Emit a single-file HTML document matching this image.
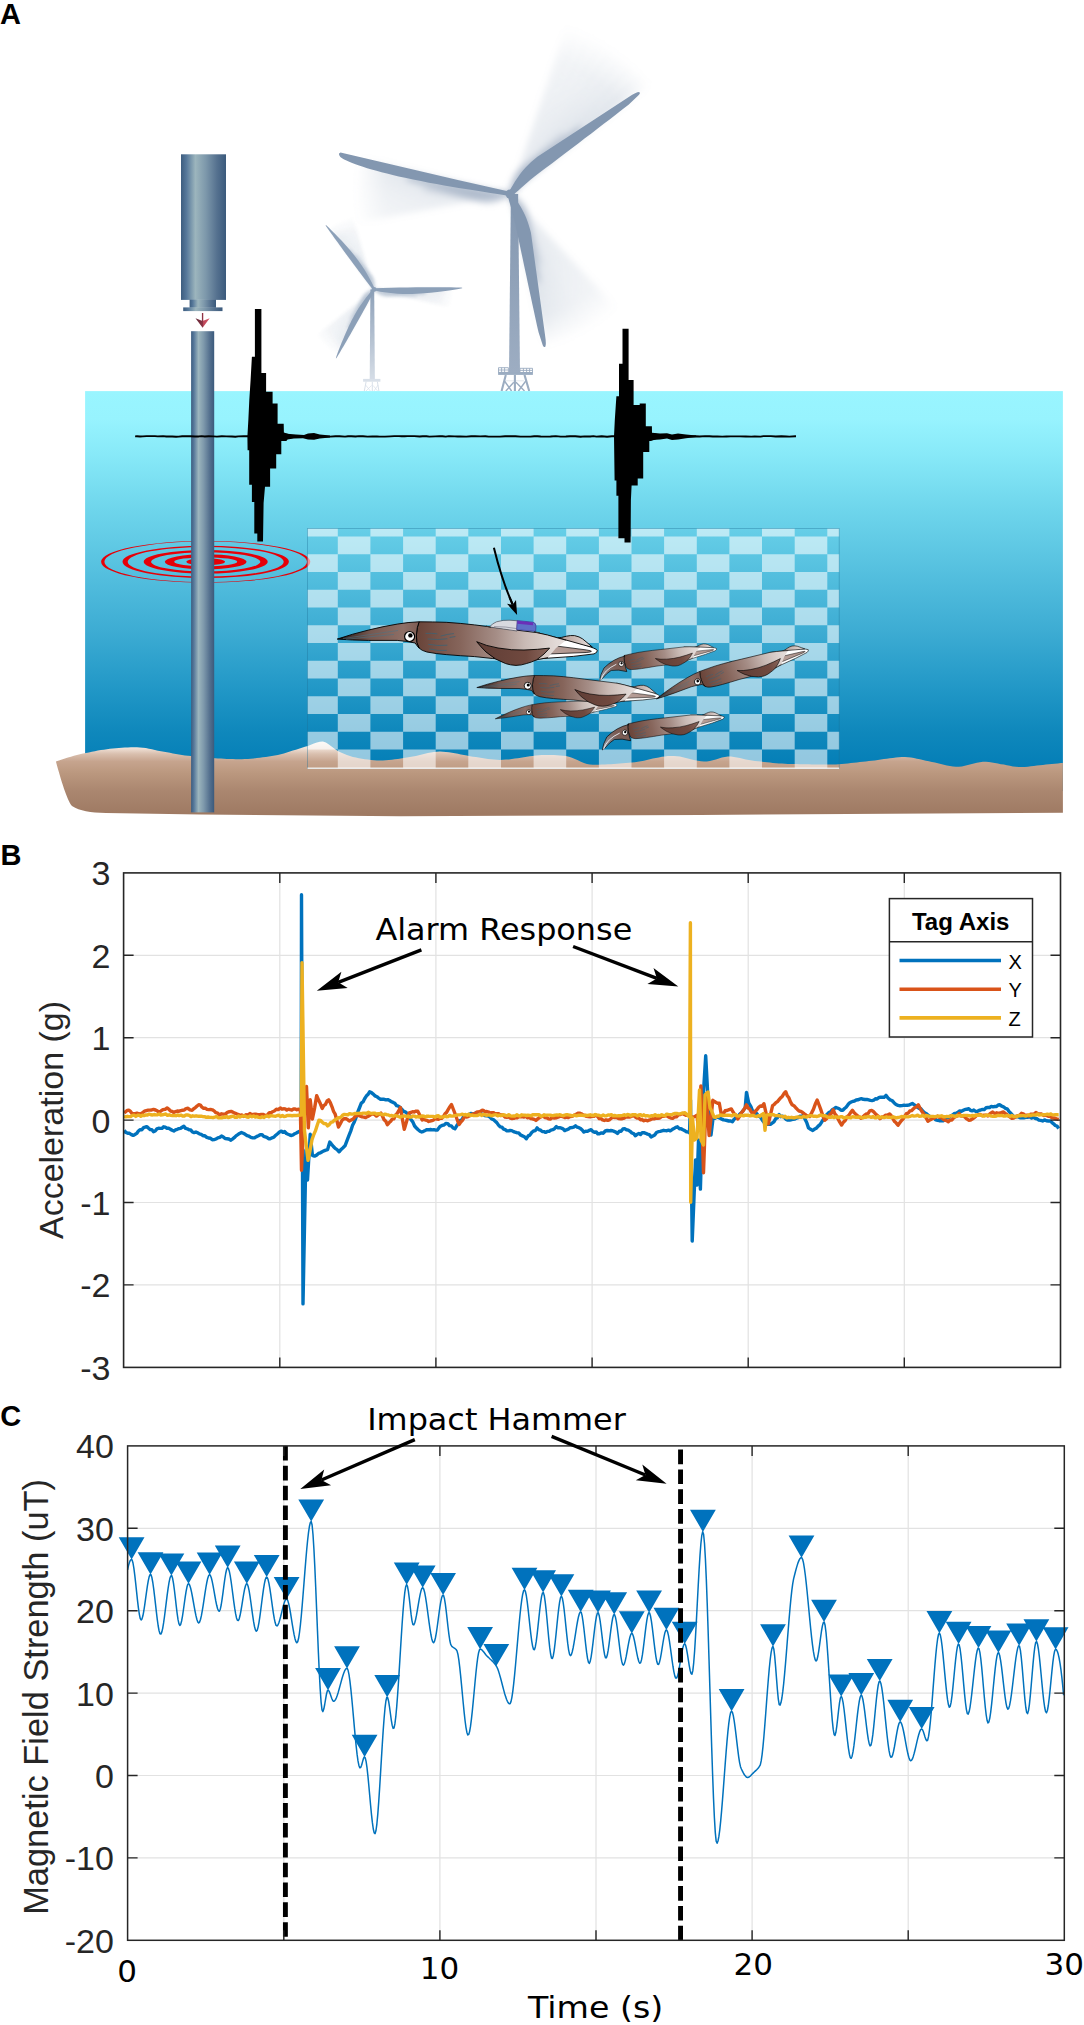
<!DOCTYPE html>
<html lang="en">
<head>
<meta charset="utf-8">
<title>Figure</title>
<style>
html,body{margin:0;padding:0;background:#fff;}
body{width:1084px;height:2025px;overflow:hidden;}
svg{display:block;}
text{white-space:pre;}
</style>
</head>
<body>
<svg width="1084" height="2025" viewBox="0 0 1084 2025">
<rect x="0" y="0" width="1084" height="2025" fill="#ffffff"/>
<defs>
<linearGradient id="gWater" x1="0" y1="0" x2="0" y2="1">
<stop offset="0" stop-color="#99f5ff"/><stop offset="0.07" stop-color="#97f3fe"/><stop offset="0.16" stop-color="#87e9f8"/>
<stop offset="0.29" stop-color="#6fd6ec"/><stop offset="0.45" stop-color="#55c0df"/><stop offset="0.60" stop-color="#3dacd3"/>
<stop offset="0.74" stop-color="#2298c7"/><stop offset="0.85" stop-color="#0f88bc"/><stop offset="0.95" stop-color="#037db6"/><stop offset="1" stop-color="#027cb5"/>
</linearGradient>
<linearGradient id="gSand" gradientUnits="userSpaceOnUse" x1="0" y1="739" x2="0" y2="814">
<stop offset="0" stop-color="#fffaf6"/><stop offset="0.12" stop-color="#f0e2d8"/><stop offset="0.2" stop-color="#d9bfae"/><stop offset="0.3" stop-color="#c6a48e"/>
<stop offset="0.45" stop-color="#bb987f"/><stop offset="0.7" stop-color="#aa866f"/><stop offset="1" stop-color="#9f7a63"/>
</linearGradient>
<linearGradient id="gSteel" x1="0" y1="0" x2="1" y2="0">
<stop offset="0" stop-color="#3d5d7f"/><stop offset="0.12" stop-color="#56789a"/><stop offset="0.32" stop-color="#9cb5bd"/>
<stop offset="0.55" stop-color="#7d98ab"/><stop offset="0.8" stop-color="#55718f"/><stop offset="1" stop-color="#3b5a7c"/>
</linearGradient>
<linearGradient id="gRedArrow" x1="0" y1="0" x2="1" y2="0">
<stop offset="0" stop-color="#5e2433"/><stop offset="0.5" stop-color="#8c3445"/><stop offset="0.5" stop-color="#b94457"/><stop offset="1" stop-color="#d9586a"/>
</linearGradient>
<filter id="blur3" x="-30%" y="-30%" width="160%" height="160%"><feGaussianBlur stdDeviation="3"/></filter>
<filter id="blur5" x="-30%" y="-30%" width="160%" height="160%"><feGaussianBlur stdDeviation="5"/></filter>
<filter id="blur2" x="-30%" y="-30%" width="160%" height="160%"><feGaussianBlur stdDeviation="1.6"/></filter>
<filter id="blur1" x="-30%" y="-30%" width="160%" height="160%"><feGaussianBlur stdDeviation="0.8"/></filter>

</defs>
<g id="panelA">
<text x="0" y="23.9" font-family="'Liberation Sans', Arial, Helvetica, sans-serif" font-weight="700" font-size="29" fill="#000">A</text>
<g opacity="1.0">
<linearGradient id="gT510" gradientUnits="userSpaceOnUse" x1="0" y1="194.0" x2="0" y2="372.4"><stop offset="0" stop-color="#8397b0"/><stop offset="1" stop-color="#9dadc2"/></linearGradient>
<path d="M510.9 194.0L518.1 194.0L520.0 372.4L509.0 372.4Z" fill="url(#gT510)"/>
<radialGradient id="gR510_0" gradientUnits="userSpaceOnUse" cx="0" cy="0" r="178.0"><stop offset="0" stop-color="#8397b0" stop-opacity="1"/><stop offset="0.45" stop-color="#8397b0" stop-opacity="0.8"/><stop offset="0.8" stop-color="#8397b0" stop-opacity="0.55"/><stop offset="1" stop-color="#8397b0" stop-opacity="0"/></radialGradient>
<g transform="translate(510.0,194.0) rotate(-38.0) scale(1,1)" filter="url(#blur3)">
<path d="M0.0,0.0 178.0,0.0 178.0,-2.4 178.0,-4.9 177.9,-7.3 177.8,-9.8 177.6,-12.2 177.4,-14.7Z" fill="url(#gR510_0)" fill-opacity="0.340"/>
<path d="M0.0,-0.0 177.6,-12.8 177.4,-15.2 177.2,-17.7 176.9,-20.1 176.6,-22.5 176.3,-25.0 175.9,-27.4Z" fill="url(#gR510_0)" fill-opacity="0.300"/>
<path d="M0.0,-0.0 176.2,-25.5 175.8,-28.0 175.4,-30.4 175.0,-32.8 174.5,-35.2 174.0,-37.6 173.5,-40.0Z" fill="url(#gR510_0)" fill-opacity="0.266"/>
<path d="M0.0,-0.0 173.9,-38.2 173.4,-40.5 172.8,-42.9 172.2,-45.3 171.5,-47.7 170.9,-50.0 170.2,-52.4Z" fill="url(#gR510_0)" fill-opacity="0.236"/>
<path d="M0.0,-0.0 170.7,-50.6 170.0,-52.9 169.3,-55.2 168.5,-57.6 167.7,-59.9 166.8,-62.2 166.0,-64.5Z" fill="url(#gR510_0)" fill-opacity="0.213"/>
<path d="M0.0,-0.0 166.6,-62.7 165.8,-65.0 164.8,-67.3 163.9,-69.5 162.9,-71.8 161.9,-74.0 160.9,-76.2Z" fill="url(#gR510_0)" fill-opacity="0.194"/>
<path d="M0.0,-0.0 161.7,-74.5 160.6,-76.8 159.6,-79.0 158.5,-81.1 157.3,-83.3 156.2,-85.5 155.0,-87.6Z" fill="url(#gR510_0)" fill-opacity="0.181"/>
<path d="M0.0,-0.0 155.9,-86.0 154.7,-88.1 153.5,-90.2 152.2,-92.3 150.9,-94.4 149.6,-96.5 148.3,-98.5Z" fill="url(#gR510_0)" fill-opacity="0.173"/>
<path transform="rotate(-5)" d="M0.0,-2.1 C4.9,-4.5 12.9,-11.3 26.7,-11.3 L92.0,-3.0 Q97.4,-2.4 98.7,-0.9 Q99.3,0.6 97.4,1.2 L89.0,2.4 C74.2,2.4 39.6,1.8 17.8,1.2 C9.9,1.2 4.0,2.7 0.0,2.4Z" fill="#8397b0" fill-opacity="0.42"/>
<path transform="rotate(-10.5)" d="M0.0,-2.0 C4.1,-4.2 10.7,-10.6 22.3,-10.6 L76.7,-2.8 Q81.2,-2.2 82.3,-0.8 Q82.8,0.6 81.2,1.1 L74.2,2.2 C61.8,2.2 33.0,1.7 14.8,1.1 C8.2,1.1 3.3,2.5 0.0,2.2Z" fill="#8397b0" fill-opacity="0.189"/>
</g>
<radialGradient id="gR510_1" gradientUnits="userSpaceOnUse" cx="0" cy="0" r="155.1"><stop offset="0" stop-color="#8397b0" stop-opacity="1"/><stop offset="0.45" stop-color="#8397b0" stop-opacity="0.8"/><stop offset="0.8" stop-color="#8397b0" stop-opacity="0.55"/><stop offset="1" stop-color="#8397b0" stop-opacity="0"/></radialGradient>
<g transform="translate(510.0,194.0) rotate(-166.4) scale(1,1)" filter="url(#blur3)">
<path d="M0.0,0.0 155.1,0.0 155.1,-1.6 155.1,-3.2 155.0,-4.9 155.0,-6.5 154.9,-8.1 154.8,-9.7Z" fill="url(#gR510_1)" fill-opacity="0.340"/>
<path d="M0.0,-0.0 154.9,-8.1 154.8,-9.7 154.7,-11.4 154.6,-13.0 154.4,-14.6 154.3,-16.2 154.1,-17.8Z" fill="url(#gR510_1)" fill-opacity="0.300"/>
<path d="M0.0,-0.0 154.3,-16.2 154.1,-17.8 153.9,-19.4 153.7,-21.1 153.4,-22.7 153.2,-24.3 152.9,-25.9Z" fill="url(#gR510_1)" fill-opacity="0.266"/>
<path d="M0.0,-0.0 153.2,-24.3 152.9,-25.9 152.7,-27.5 152.4,-29.1 152.0,-30.7 151.7,-32.2 151.4,-33.8Z" fill="url(#gR510_1)" fill-opacity="0.236"/>
<path d="M0.0,-0.0 151.7,-32.2 151.4,-33.8 151.0,-35.4 150.6,-37.0 150.2,-38.6 149.8,-40.1 149.4,-41.7Z" fill="url(#gR510_1)" fill-opacity="0.213"/>
<path d="M0.0,-0.0 149.8,-40.1 149.4,-41.7 148.9,-43.3 148.5,-44.8 148.0,-46.4 147.5,-47.9 147.0,-49.5Z" fill="url(#gR510_1)" fill-opacity="0.194"/>
<path d="M0.0,-0.0 147.5,-47.9 147.0,-49.5 146.5,-51.0 145.9,-52.5 145.4,-54.1 144.8,-55.6 144.2,-57.1Z" fill="url(#gR510_1)" fill-opacity="0.181"/>
<path d="M0.0,-0.0 144.8,-55.6 144.2,-57.1 143.6,-58.6 143.0,-60.1 142.3,-61.6 141.7,-63.1 141.0,-64.6Z" fill="url(#gR510_1)" fill-opacity="0.173"/>
<path transform="rotate(-5)" d="M0.0,-2.2 C5.3,-4.8 13.7,-12.1 28.6,-12.1 L98.4,-3.2 Q104.2,-2.5 105.5,-1.0 Q106.2,0.6 104.2,1.3 L95.2,2.5 C79.3,2.5 42.3,1.9 19.0,1.3 C10.6,1.3 4.2,2.9 0.0,2.5Z" fill="#8397b0" fill-opacity="0.42"/>
<path transform="rotate(-10.5)" d="M0.0,-2.1 C4.4,-4.5 11.5,-11.4 23.8,-11.4 L82.0,-3.0 Q86.8,-2.4 88.0,-0.9 Q88.5,0.6 86.8,1.2 L79.3,2.4 C66.1,2.4 35.3,1.8 15.9,1.2 C8.8,1.2 3.5,2.7 0.0,2.4Z" fill="#8397b0" fill-opacity="0.189"/>
</g>
<radialGradient id="gR510_2" gradientUnits="userSpaceOnUse" cx="0" cy="0" r="157.0"><stop offset="0" stop-color="#8397b0" stop-opacity="1"/><stop offset="0.45" stop-color="#8397b0" stop-opacity="0.8"/><stop offset="0.8" stop-color="#8397b0" stop-opacity="0.55"/><stop offset="1" stop-color="#8397b0" stop-opacity="0"/></radialGradient>
<g transform="translate(510.0,194.0) rotate(77.3) scale(1,1)" filter="url(#blur3)">
<path d="M0.0,0.0 157.0,0.0 157.0,-2.0 157.0,-4.0 156.9,-6.0 156.8,-7.9 156.7,-9.9 156.6,-11.9Z" fill="url(#gR510_2)" fill-opacity="0.340"/>
<path d="M0.0,-0.0 156.7,-10.3 156.6,-12.3 156.4,-14.2 156.2,-16.2 156.0,-18.2 155.7,-20.2 155.5,-22.1Z" fill="url(#gR510_2)" fill-opacity="0.300"/>
<path d="M0.0,-0.0 155.7,-20.5 155.4,-22.5 155.1,-24.4 154.8,-26.4 154.5,-28.3 154.1,-30.3 153.7,-32.2Z" fill="url(#gR510_2)" fill-opacity="0.266"/>
<path d="M0.0,-0.0 154.0,-30.6 153.6,-32.6 153.2,-34.5 152.7,-36.5 152.3,-38.4 151.8,-40.3 151.3,-42.2Z" fill="url(#gR510_2)" fill-opacity="0.236"/>
<path d="M0.0,-0.0 151.7,-40.6 151.2,-42.6 150.6,-44.5 150.0,-46.4 149.4,-48.3 148.8,-50.2 148.2,-52.0Z" fill="url(#gR510_2)" fill-opacity="0.213"/>
<path d="M0.0,-0.0 148.7,-50.5 148.1,-52.4 147.4,-54.2 146.7,-56.1 146.0,-57.9 145.2,-59.8 144.4,-61.6Z" fill="url(#gR510_2)" fill-opacity="0.194"/>
<path d="M0.0,-0.0 145.1,-60.1 144.3,-61.9 143.5,-63.7 142.7,-65.6 141.9,-67.4 141.0,-69.1 140.1,-70.9Z" fill="url(#gR510_2)" fill-opacity="0.181"/>
<path d="M0.0,-0.0 140.8,-69.5 140.0,-71.2 139.0,-73.0 138.1,-74.8 137.1,-76.5 136.2,-78.2 135.2,-79.9Z" fill="url(#gR510_2)" fill-opacity="0.173"/>
<path transform="rotate(-5)" d="M0.0,-2.0 C4.7,-4.2 12.2,-10.7 25.4,-10.7 L87.6,-2.8 Q92.8,-2.3 94.0,-0.8 Q94.6,0.6 92.8,1.1 L84.8,2.3 C70.7,2.3 37.7,1.7 17.0,1.1 C9.4,1.1 3.8,2.5 0.0,2.3Z" fill="#8397b0" fill-opacity="0.42"/>
<path transform="rotate(-10.5)" d="M0.0,-1.9 C3.9,-4.0 10.2,-10.1 21.2,-10.1 L73.0,-2.7 Q77.3,-2.1 78.4,-0.8 Q78.8,0.5 77.3,1.1 L70.7,2.1 C58.9,2.1 31.4,1.6 14.1,1.1 C7.9,1.1 3.1,2.4 0.0,2.1Z" fill="#8397b0" fill-opacity="0.189"/>
</g>
<path transform="translate(510.0,194.0) rotate(-38.0) scale(1,1)" d="M0.0,-2.3 C8.2,-4.9 21.4,-12.5 44.5,-12.5 L153.3,-3.3 Q162.4,-2.6 164.5,-1.0 Q165.5,0.7 162.4,1.3 L148.4,2.6 C123.6,2.6 65.9,2.0 29.7,1.3 C16.5,1.3 6.6,3.0 0.0,2.6Z" fill="#8397b0"/>
<path transform="translate(510.0,194.0) rotate(-166.4) scale(1,1)" d="M0.0,2.1 L0.0,-2.1 C21.2,-3.5 61.7,-8.1 105.8,-9.0 C141.0,-9.3 163.9,-8.1 173.6,-3.9 Q177.3,-1.1 174.5,0.5 L52.9,1.4Z" fill="#8397b0"/>
<path transform="translate(510.0,194.0) rotate(77.3) scale(1,1)" d="M0.0,-2.2 C7.9,-4.7 20.4,-11.9 42.4,-11.9 L146.0,-3.1 Q154.7,-2.5 156.7,-0.9 Q157.7,0.6 154.7,1.3 L141.3,2.5 C117.8,2.5 62.8,1.9 28.3,1.3 C15.7,1.3 6.3,2.8 0.0,2.5Z" fill="#8397b0"/>
<circle cx="510.0" cy="194.0" r="4.5" fill="#8397b0"/>
</g>
<g stroke="#9bacc1" fill="none" stroke-width="1.1">
<path d="M498.5 367.7H508.4V372.4H498.5ZM520 368.3H532.5V372.6H520ZM501.6 367.7v4.6M504.6 367.7v4.6M523.4 368.3v4.2M526.6 368.3v4.2M529.6 368.3v4.2M498.5 370H508.4M520 370.4H532.5" stroke-width="0.9"/>
<rect x="498.1" y="372" width="34.8" height="2.9" fill="#9bacc1" stroke="none"/>
<path d="M505.8 374.9L501.6 391M514.9 374.9V391M524.5 374.9L529.2 391" stroke-width="2.1"/>
<path d="M504.5 381L511.6 391M513.8 382.3L505.8 391M516 382.3L524.5 391M525.8 381L518.4 391" stroke-width="1.4"/>
<path d="M506 380.8H524" stroke-width="0.7" stroke-opacity="0.4"/>
</g>
<g opacity="0.92">
<linearGradient id="gT374" gradientUnits="userSpaceOnUse" x1="0" y1="289.4" x2="0" y2="380"><stop offset="0" stop-color="#8398b2"/><stop offset="1" stop-color="#d3dbe5"/></linearGradient>
<path d="M370.4 289.4L374.2 289.4L374.9 380.0L369.7 380.0Z" fill="url(#gT374)"/>
<radialGradient id="gR374_0" gradientUnits="userSpaceOnUse" cx="0" cy="0" r="76.4"><stop offset="0" stop-color="#8398b2" stop-opacity="1"/><stop offset="0.45" stop-color="#8398b2" stop-opacity="0.8"/><stop offset="0.8" stop-color="#8398b2" stop-opacity="0.55"/><stop offset="1" stop-color="#8398b2" stop-opacity="0"/></radialGradient>
<g transform="translate(374.0,289.4) rotate(-126.9) scale(1,-1)" filter="url(#blur2)">
<path d="M0.0,0.0 76.4,0.0 76.4,-0.7 76.4,-1.4 76.4,-2.1 76.3,-2.8 76.3,-3.4 76.3,-4.1Z" fill="url(#gR374_0)" fill-opacity="0.300"/>
<path d="M0.0,-0.0 76.3,-3.3 76.3,-4.0 76.3,-4.7 76.2,-5.4 76.2,-6.1 76.1,-6.8 76.0,-7.5Z" fill="url(#gR374_0)" fill-opacity="0.265"/>
<path d="M0.0,-0.0 76.1,-6.7 76.0,-7.3 76.0,-8.0 75.9,-8.7 75.8,-9.4 75.7,-10.1 75.6,-10.8Z" fill="url(#gR374_0)" fill-opacity="0.234"/>
<path d="M0.0,-0.0 75.7,-10.0 75.7,-10.7 75.6,-11.3 75.4,-12.0 75.3,-12.7 75.2,-13.4 75.1,-14.1Z" fill="url(#gR374_0)" fill-opacity="0.209"/>
<path d="M0.0,-0.0 75.2,-13.3 75.1,-13.9 75.0,-14.6 74.9,-15.3 74.7,-16.0 74.6,-16.6 74.4,-17.3Z" fill="url(#gR374_0)" fill-opacity="0.188"/>
<path d="M0.0,-0.0 74.6,-16.5 74.4,-17.2 74.3,-17.9 74.1,-18.5 73.9,-19.2 73.8,-19.9 73.6,-20.5Z" fill="url(#gR374_0)" fill-opacity="0.171"/>
<path d="M0.0,-0.0 73.8,-19.8 73.6,-20.4 73.4,-21.1 73.2,-21.8 73.0,-22.4 72.8,-23.1 72.6,-23.7Z" fill="url(#gR374_0)" fill-opacity="0.159"/>
<path d="M0.0,-0.0 72.9,-23.0 72.7,-23.6 72.4,-24.3 72.2,-24.9 72.0,-25.6 71.8,-26.2 71.5,-26.9Z" fill="url(#gR374_0)" fill-opacity="0.152"/>
<path transform="rotate(-5)" d="M0.0,-1.0 C2.4,-2.2 6.3,-5.5 13.0,-5.5 L44.9,-1.4 Q47.5,-1.2 48.2,-0.4 Q48.4,0.3 47.5,0.6 L43.4,1.2 C36.2,1.2 19.3,0.9 8.7,0.6 C4.8,0.6 1.9,1.3 0.0,1.2Z" fill="#8398b2" fill-opacity="0.42"/>
<path transform="rotate(-10.5)" d="M0.0,-1.0 C2.0,-2.1 5.2,-5.2 10.9,-5.2 L37.4,-1.4 Q39.6,-1.1 40.1,-0.4 Q40.4,0.3 39.6,0.5 L36.2,1.1 C30.2,1.1 16.1,0.8 7.2,0.5 C4.0,0.5 1.6,1.2 0.0,1.1Z" fill="#8398b2" fill-opacity="0.189"/>
</g>
<radialGradient id="gR374_1" gradientUnits="userSpaceOnUse" cx="0" cy="0" r="79.6"><stop offset="0" stop-color="#8398b2" stop-opacity="1"/><stop offset="0.45" stop-color="#8398b2" stop-opacity="0.8"/><stop offset="0.8" stop-color="#8398b2" stop-opacity="0.55"/><stop offset="1" stop-color="#8398b2" stop-opacity="0"/></radialGradient>
<g transform="translate(374.0,289.4) rotate(-1.0) scale(1,-1)" filter="url(#blur2)">
<path d="M0.0,0.0 79.6,0.0 79.6,-0.5 79.6,-1.1 79.6,-1.6 79.5,-2.2 79.5,-2.7 79.5,-3.3Z" fill="url(#gR374_1)" fill-opacity="0.300"/>
<path d="M0.0,-0.0 79.5,-2.4 79.5,-3.0 79.5,-3.5 79.5,-4.1 79.4,-4.6 79.4,-5.1 79.4,-5.7Z" fill="url(#gR374_1)" fill-opacity="0.265"/>
<path d="M0.0,-0.0 79.4,-4.9 79.4,-5.4 79.4,-5.9 79.3,-6.5 79.3,-7.0 79.2,-7.6 79.2,-8.1Z" fill="url(#gR374_1)" fill-opacity="0.234"/>
<path d="M0.0,-0.0 79.2,-7.3 79.2,-7.8 79.1,-8.4 79.1,-8.9 79.0,-9.4 78.9,-10.0 78.9,-10.5Z" fill="url(#gR374_1)" fill-opacity="0.209"/>
<path d="M0.0,-0.0 79.0,-9.7 78.9,-10.2 78.8,-10.8 78.8,-11.3 78.7,-11.9 78.6,-12.4 78.5,-12.9Z" fill="url(#gR374_1)" fill-opacity="0.188"/>
<path d="M0.0,-0.0 78.6,-12.1 78.6,-12.6 78.5,-13.2 78.4,-13.7 78.3,-14.3 78.2,-14.8 78.1,-15.3Z" fill="url(#gR374_1)" fill-opacity="0.171"/>
<path d="M0.0,-0.0 78.2,-14.5 78.1,-15.0 78.0,-15.6 77.9,-16.1 77.8,-16.6 77.7,-17.2 77.6,-17.7Z" fill="url(#gR374_1)" fill-opacity="0.159"/>
<path d="M0.0,-0.0 77.8,-16.9 77.6,-17.4 77.5,-17.9 77.4,-18.5 77.3,-19.0 77.1,-19.5 77.0,-20.1Z" fill="url(#gR374_1)" fill-opacity="0.152"/>
<path transform="rotate(-5)" d="M0.0,-1.1 C2.7,-2.4 6.9,-6.0 14.3,-6.0 L49.3,-1.6 Q52.3,-1.3 52.9,-0.5 Q53.3,0.3 52.3,0.6 L47.7,1.3 C39.8,1.3 21.2,1.0 9.5,0.6 C5.3,0.6 2.1,1.4 0.0,1.3Z" fill="#8398b2" fill-opacity="0.42"/>
<path transform="rotate(-10.5)" d="M0.0,-1.1 C2.2,-2.3 5.7,-5.7 11.9,-5.7 L41.1,-1.5 Q43.5,-1.2 44.1,-0.5 Q44.4,0.3 43.5,0.6 L39.8,1.2 C33.2,1.2 17.7,0.9 8.0,0.6 C4.4,0.6 1.8,1.4 0.0,1.2Z" fill="#8398b2" fill-opacity="0.189"/>
</g>
<radialGradient id="gR374_2" gradientUnits="userSpaceOnUse" cx="0" cy="0" r="74.9"><stop offset="0" stop-color="#8398b2" stop-opacity="1"/><stop offset="0.45" stop-color="#8398b2" stop-opacity="0.8"/><stop offset="0.8" stop-color="#8398b2" stop-opacity="0.55"/><stop offset="1" stop-color="#8398b2" stop-opacity="0"/></radialGradient>
<g transform="translate(374.0,289.4) rotate(118.9) scale(1,-1)" filter="url(#blur2)">
<path d="M0.0,0.0 74.9,0.0 74.9,-0.7 74.9,-1.5 74.8,-2.2 74.8,-2.9 74.8,-3.6 74.8,-4.4Z" fill="url(#gR374_2)" fill-opacity="0.300"/>
<path d="M0.0,-0.0 74.8,-3.6 74.8,-4.3 74.7,-5.0 74.7,-5.8 74.6,-6.5 74.5,-7.2 74.5,-8.0Z" fill="url(#gR374_2)" fill-opacity="0.265"/>
<path d="M0.0,-0.0 74.5,-7.2 74.5,-7.9 74.4,-8.6 74.3,-9.4 74.2,-10.1 74.1,-10.8 74.0,-11.5Z" fill="url(#gR374_2)" fill-opacity="0.234"/>
<path d="M0.0,-0.0 74.1,-10.7 74.0,-11.5 73.9,-12.2 73.8,-12.9 73.6,-13.6 73.5,-14.3 73.3,-15.1Z" fill="url(#gR374_2)" fill-opacity="0.209"/>
<path d="M0.0,-0.0 73.5,-14.3 73.4,-15.0 73.2,-15.7 73.1,-16.4 72.9,-17.1 72.7,-17.9 72.5,-18.6Z" fill="url(#gR374_2)" fill-opacity="0.188"/>
<path d="M0.0,-0.0 72.7,-17.8 72.6,-18.5 72.4,-19.2 72.2,-19.9 72.0,-20.6 71.8,-21.3 71.6,-22.0Z" fill="url(#gR374_2)" fill-opacity="0.171"/>
<path d="M0.0,-0.0 71.8,-21.3 71.6,-22.0 71.4,-22.7 71.1,-23.4 70.9,-24.0 70.7,-24.7 70.4,-25.4Z" fill="url(#gR374_2)" fill-opacity="0.159"/>
<path d="M0.0,-0.0 70.7,-24.7 70.4,-25.4 70.2,-26.1 69.9,-26.7 69.7,-27.4 69.4,-28.1 69.1,-28.8Z" fill="url(#gR374_2)" fill-opacity="0.152"/>
<path transform="rotate(-5)" d="M0.0,-1.0 C2.4,-2.1 6.1,-5.4 12.8,-5.4 L44.0,-1.4 Q46.6,-1.1 47.2,-0.4 Q47.5,0.3 46.6,0.6 L42.6,1.1 C35.5,1.1 18.9,0.9 8.5,0.6 C4.7,0.6 1.9,1.3 0.0,1.1Z" fill="#8398b2" fill-opacity="0.42"/>
<path transform="rotate(-10.5)" d="M0.0,-0.9 C2.0,-2.0 5.1,-5.1 10.6,-5.1 L36.7,-1.3 Q38.8,-1.1 39.3,-0.4 Q39.6,0.3 38.8,0.5 L35.5,1.1 C29.6,1.1 15.8,0.8 7.1,0.5 C3.9,0.5 1.6,1.2 0.0,1.1Z" fill="#8398b2" fill-opacity="0.189"/>
</g>
<path transform="translate(374.0,289.4) rotate(-126.9) scale(1,-1)" d="M0.0,-1.0 C8.0,-2.8 22.5,-5.3 38.6,-4.7 C56.3,-3.9 72.4,-1.8 80.3,-0.2 Q80.7,0.2 79.2,0.4 C64.3,1.0 32.2,1.4 0.0,1.1Z" fill="#8398b2"/>
<path transform="translate(374.0,289.4) rotate(-1.0) scale(1,-1)" d="M0.0,-1.1 C8.8,-3.1 24.8,-5.8 42.4,-5.1 C61.9,-4.2 79.6,-1.9 88.2,-0.3 Q88.8,0.2 87.1,0.4 C70.7,1.1 35.4,1.6 0.0,1.2Z" fill="#8398b2"/>
<path transform="translate(374.0,289.4) rotate(118.9) scale(1,-1)" d="M0.0,-0.9 C7.9,-2.8 22.1,-5.2 37.8,-4.6 C55.2,-3.8 70.9,-1.7 78.7,-0.2 Q79.1,0.2 77.6,0.4 C63.1,0.9 31.5,1.4 0.0,1.1Z" fill="#8398b2"/>
<circle cx="374.0" cy="289.4" r="2.4" fill="#8398b2"/>
</g>
<g stroke="#d9e0e9" fill="none" stroke-width="0.9">
<rect x="363.1" y="378.9" width="17.3" height="2.8" fill="#d9e0e9" stroke="none"/>
<path d="M366.1 381.7L364.3 391M372.3 381.7V391M377.4 381.7L378.9 391" stroke-width="1.0"/>
<path d="M365.6 385L370.4 391M371.6 385.4L366 391M373 385.4L377.6 391M378 385L374 391" stroke-width="0.7"/>
</g>
<rect x="85.1" y="391.1" width="977.8" height="400" fill="url(#gWater)"/>
<path d="M55.9,761.5 58.9,760.5 61.9,759.5 64.9,758.5 67.9,757.6 70.9,756.7 73.9,755.8 76.9,755.0 79.9,754.3 82.9,753.6 85.9,753.0 88.9,752.4 91.9,751.8 94.9,751.2 97.9,750.6 100.9,750.1 103.9,749.7 106.9,749.2 109.9,748.8 112.9,748.5 115.9,748.2 118.9,748.0 121.9,747.8 124.9,747.6 127.9,747.4 130.9,747.3 133.9,747.2 136.9,747.2 139.9,747.4 142.9,747.7 145.9,748.1 148.9,748.7 151.9,749.3 154.9,750.0 157.9,750.7 160.9,751.2 163.9,751.8 166.9,752.3 169.9,752.8 172.9,753.4 175.9,753.9 178.9,754.4 181.9,754.9 184.9,755.4 187.9,755.7 190.9,756.0 193.9,756.3 196.9,756.6 199.9,756.9 202.9,757.2 205.9,757.5 208.9,757.7 211.9,758.0 214.9,758.2 217.9,758.4 220.9,758.6 223.9,758.8 226.9,758.9 229.9,759.0 232.9,759.1 235.9,759.2 238.9,759.2 241.9,759.2 244.9,759.1 247.9,758.9 250.9,758.7 253.9,758.4 256.9,758.0 259.9,757.7 262.9,757.3 265.9,756.9 268.9,756.4 271.9,756.0 274.9,755.5 277.9,754.9 280.9,754.2 283.9,753.4 286.9,752.5 289.9,751.6 292.9,750.6 295.9,749.7 298.9,748.7 301.9,747.7 304.9,746.8 307.9,745.9 310.9,744.7 313.9,743.5 316.9,742.5 319.9,741.8 322.9,741.6 325.9,742.5 328.9,744.4 331.9,746.8 334.9,749.1 337.9,751.1 340.9,752.5 343.9,753.7 346.9,754.9 349.9,755.9 352.9,756.9 355.9,757.6 358.9,758.2 361.9,758.7 364.9,759.2 367.9,759.6 370.9,760.0 373.9,760.2 376.9,760.4 379.9,760.5 382.9,760.4 385.9,760.3 388.9,760.0 391.9,759.7 394.9,759.3 397.9,758.9 400.9,758.4 403.9,757.9 406.9,757.5 409.9,757.0 412.9,756.5 415.9,755.9 418.9,755.2 421.9,754.5 424.9,753.8 427.9,753.1 430.9,752.5 433.9,752.0 436.9,751.7 439.9,751.6 442.9,751.7 445.9,751.9 448.9,752.2 451.9,752.7 454.9,753.2 457.9,753.8 460.9,754.4 463.9,755.0 466.9,755.6 469.9,756.2 472.9,756.7 475.9,757.1 478.9,757.6 481.9,758.0 484.9,758.5 487.9,758.9 490.9,759.3 493.9,759.6 496.9,759.8 499.9,759.9 502.9,759.8 505.9,759.6 508.9,759.4 511.9,759.0 514.9,758.6 517.9,758.2 520.9,757.7 523.9,757.2 526.9,756.7 529.9,756.3 532.9,755.9 535.9,755.5 538.9,755.2 541.9,755.0 544.9,754.9 547.9,754.9 550.9,755.0 553.9,755.1 556.9,755.3 559.9,755.5 562.9,755.8 565.9,756.1 568.9,756.8 571.9,757.7 574.9,759.0 577.9,760.3 580.9,761.7 583.9,762.9 586.9,763.9 589.9,764.6 592.9,764.8 595.9,764.8 598.9,764.7 601.9,764.6 604.9,764.5 607.9,764.3 610.9,764.2 613.9,764.0 616.9,763.8 619.9,763.5 622.9,763.3 625.9,763.1 628.9,762.8 631.9,762.5 634.9,762.2 637.9,761.8 640.9,761.3 643.9,760.7 646.9,760.0 649.9,759.3 652.9,758.6 655.9,758.0 658.9,757.4 661.9,756.8 664.9,756.4 667.9,756.1 670.9,755.9 673.9,755.9 676.9,756.2 679.9,756.6 682.9,757.2 685.9,757.9 688.9,758.7 691.9,759.5 694.9,760.2 697.9,760.8 700.9,761.2 703.9,761.5 706.9,761.4 709.9,761.0 712.9,760.3 715.9,759.4 718.9,758.4 721.9,757.5 724.9,756.9 727.9,756.5 730.9,756.6 733.9,756.9 736.9,757.4 739.9,758.0 742.9,758.7 745.9,759.4 748.9,760.0 751.9,760.5 754.9,760.9 757.9,761.2 760.9,761.6 763.9,761.9 766.9,762.3 769.9,762.6 772.9,762.9 775.9,763.2 778.9,763.4 781.9,763.6 784.9,763.8 787.9,763.9 790.9,764.0 793.9,764.1 796.9,764.1 799.9,764.2 802.9,764.3 805.9,764.3 808.9,764.3 811.9,764.4 814.9,764.4 817.9,764.4 820.9,764.5 823.9,764.5 826.9,764.5 829.9,764.5 832.9,764.5 835.9,764.4 838.9,764.2 841.9,764.0 844.9,763.7 847.9,763.5 850.9,763.1 853.9,762.8 856.9,762.5 859.9,762.1 862.9,761.8 865.9,761.4 868.9,761.1 871.9,760.8 874.9,760.4 877.9,760.0 880.9,759.6 883.9,759.1 886.9,758.7 889.9,758.2 892.9,757.9 895.9,757.5 898.9,757.3 901.9,757.1 904.9,757.1 907.9,757.3 910.9,757.6 913.9,758.1 916.9,758.7 919.9,759.3 922.9,760.0 925.9,760.7 928.9,761.3 931.9,761.9 934.9,762.5 937.9,763.2 940.9,764.0 943.9,764.7 946.9,765.4 949.9,766.0 952.9,766.4 955.9,766.7 958.9,766.7 961.9,766.4 964.9,765.8 967.9,765.1 970.9,764.3 973.9,763.5 976.9,762.7 979.9,762.2 982.9,761.8 985.9,761.8 988.9,762.1 991.9,762.5 994.9,763.0 997.9,763.6 1000.9,764.2 1003.9,764.6 1006.9,765.2 1009.9,765.8 1012.9,766.4 1015.9,766.8 1018.9,767.1 1021.9,767.1 1024.9,766.9 1027.9,766.7 1030.9,766.3 1033.9,766.0 1036.9,765.6 1039.9,765.2 1042.9,764.9 1045.9,764.6 1048.9,764.3 1051.9,764.0 1054.9,763.7 1057.9,763.4 1060.9,763.1 L1062.9,762.9 L1062.9,812.7 L700,815 L400,816.3 L200,814.5 L106,813 C90,812.5 80,811 72,806 C67,800 61,780 55.9,761.5 Z" fill="url(#gSand)"/>
<path d="M101.1 561.8A104.6 20.90 0 1 0 310.3 561.8A104.6 20.90 0 1 0 101.1 561.8ZM104.4 561.8A101.3 20.35 0 1 0 307.0 561.8A101.3 20.35 0 1 0 104.4 561.8ZM122.5 561.8A83.2 16.15 0 1 0 288.9 561.8A83.2 16.15 0 1 0 122.5 561.8ZM127.7 561.8A78.0 14.75 0 1 0 283.7 561.8A78.0 14.75 0 1 0 127.7 561.8ZM143.7 561.8A62.0 11.75 0 1 0 267.7 561.8A62.0 11.75 0 1 0 143.7 561.8ZM151.1 561.8A54.6 9.55 0 1 0 260.3 561.8A54.6 9.55 0 1 0 151.1 561.8ZM164.8 561.8A40.9 7.50 0 1 0 246.6 561.8A40.9 7.50 0 1 0 164.8 561.8ZM174.2 561.8A31.5 4.50 0 1 0 237.2 561.8A31.5 4.50 0 1 0 174.2 561.8ZM186.4 561.8A19.3 3.60 0 1 0 225.0 561.8A19.3 3.60 0 1 0 186.4 561.8Z" fill="#e60008" fill-rule="evenodd"/>
<rect x="191.1" y="331.2" width="23.1" height="481.2" fill="url(#gSteel)"/>
<rect x="181.0" y="154.3" width="45.0" height="145.6" fill="url(#gSteel)"/>
<rect x="189.6" y="299.6" width="26.4" height="8.2" fill="url(#gSteel)"/>
<rect x="183.2" y="307.4" width="39.3" height="3.7" fill="url(#gSteel)"/>
<path d="M201.9 313.1h1.4v7.6l6.4-2.5 -7.1 9.6 -7.1-9.6 6.4 2.5z" fill="url(#gRedArrow)"/>
<path d="M307.5 528.5H337.8V536.6H307.5ZM370.4 528.5H403.1V536.6H370.4ZM435.7 528.5H468.3V536.6H435.7ZM501.0 528.5H533.6V536.6H501.0ZM566.2 528.5H598.9V536.6H566.2ZM631.5 528.5H664.1V536.6H631.5ZM696.8 528.5H729.4V536.6H696.8ZM762.0 528.5H794.7V536.6H762.0ZM827.3 528.5H839.2V536.6H827.3ZM337.8 536.6H370.4V554.3H337.8ZM403.1 536.6H435.7V554.3H403.1ZM468.3 536.6H501.0V554.3H468.3ZM533.6 536.6H566.2V554.3H533.6ZM598.9 536.6H631.5V554.3H598.9ZM664.1 536.6H696.8V554.3H664.1ZM729.4 536.6H762.0V554.3H729.4ZM794.7 536.6H827.3V554.3H794.7ZM307.5 554.3H337.8V572.1H307.5ZM370.4 554.3H403.1V572.1H370.4ZM435.7 554.3H468.3V572.1H435.7ZM501.0 554.3H533.6V572.1H501.0ZM566.2 554.3H598.9V572.1H566.2ZM631.5 554.3H664.1V572.1H631.5ZM696.8 554.3H729.4V572.1H696.8ZM762.0 554.3H794.7V572.1H762.0ZM827.3 554.3H839.2V572.1H827.3ZM337.8 572.1H370.4V589.8H337.8ZM403.1 572.1H435.7V589.8H403.1ZM468.3 572.1H501.0V589.8H468.3ZM533.6 572.1H566.2V589.8H533.6ZM598.9 572.1H631.5V589.8H598.9ZM664.1 572.1H696.8V589.8H664.1ZM729.4 572.1H762.0V589.8H729.4ZM794.7 572.1H827.3V589.8H794.7ZM307.5 589.8H337.8V607.6H307.5ZM370.4 589.8H403.1V607.6H370.4ZM435.7 589.8H468.3V607.6H435.7ZM501.0 589.8H533.6V607.6H501.0ZM566.2 589.8H598.9V607.6H566.2ZM631.5 589.8H664.1V607.6H631.5ZM696.8 589.8H729.4V607.6H696.8ZM762.0 589.8H794.7V607.6H762.0ZM827.3 589.8H839.2V607.6H827.3ZM337.8 607.6H370.4V625.3H337.8ZM403.1 607.6H435.7V625.3H403.1ZM468.3 607.6H501.0V625.3H468.3ZM533.6 607.6H566.2V625.3H533.6ZM598.9 607.6H631.5V625.3H598.9ZM664.1 607.6H696.8V625.3H664.1ZM729.4 607.6H762.0V625.3H729.4ZM794.7 607.6H827.3V625.3H794.7ZM307.5 625.3H337.8V643.0H307.5ZM370.4 625.3H403.1V643.0H370.4ZM435.7 625.3H468.3V643.0H435.7ZM501.0 625.3H533.6V643.0H501.0ZM566.2 625.3H598.9V643.0H566.2ZM631.5 625.3H664.1V643.0H631.5ZM696.8 625.3H729.4V643.0H696.8ZM762.0 625.3H794.7V643.0H762.0ZM827.3 625.3H839.2V643.0H827.3ZM337.8 643.0H370.4V660.8H337.8ZM403.1 643.0H435.7V660.8H403.1ZM468.3 643.0H501.0V660.8H468.3ZM533.6 643.0H566.2V660.8H533.6ZM598.9 643.0H631.5V660.8H598.9ZM664.1 643.0H696.8V660.8H664.1ZM729.4 643.0H762.0V660.8H729.4ZM794.7 643.0H827.3V660.8H794.7ZM307.5 660.8H337.8V678.5H307.5ZM370.4 660.8H403.1V678.5H370.4ZM435.7 660.8H468.3V678.5H435.7ZM501.0 660.8H533.6V678.5H501.0ZM566.2 660.8H598.9V678.5H566.2ZM631.5 660.8H664.1V678.5H631.5ZM696.8 660.8H729.4V678.5H696.8ZM762.0 660.8H794.7V678.5H762.0ZM827.3 660.8H839.2V678.5H827.3ZM337.8 678.5H370.4V696.3H337.8ZM403.1 678.5H435.7V696.3H403.1ZM468.3 678.5H501.0V696.3H468.3ZM533.6 678.5H566.2V696.3H533.6ZM598.9 678.5H631.5V696.3H598.9ZM664.1 678.5H696.8V696.3H664.1ZM729.4 678.5H762.0V696.3H729.4ZM794.7 678.5H827.3V696.3H794.7ZM307.5 696.3H337.8V714.0H307.5ZM370.4 696.3H403.1V714.0H370.4ZM435.7 696.3H468.3V714.0H435.7ZM501.0 696.3H533.6V714.0H501.0ZM566.2 696.3H598.9V714.0H566.2ZM631.5 696.3H664.1V714.0H631.5ZM696.8 696.3H729.4V714.0H696.8ZM762.0 696.3H794.7V714.0H762.0ZM827.3 696.3H839.2V714.0H827.3ZM337.8 714.0H370.4V731.7H337.8ZM403.1 714.0H435.7V731.7H403.1ZM468.3 714.0H501.0V731.7H468.3ZM533.6 714.0H566.2V731.7H533.6ZM598.9 714.0H631.5V731.7H598.9ZM664.1 714.0H696.8V731.7H664.1ZM729.4 714.0H762.0V731.7H729.4ZM794.7 714.0H827.3V731.7H794.7ZM307.5 731.7H337.8V749.5H307.5ZM370.4 731.7H403.1V749.5H370.4ZM435.7 731.7H468.3V749.5H435.7ZM501.0 731.7H533.6V749.5H501.0ZM566.2 731.7H598.9V749.5H566.2ZM631.5 731.7H664.1V749.5H631.5ZM696.8 731.7H729.4V749.5H696.8ZM762.0 731.7H794.7V749.5H762.0ZM827.3 731.7H839.2V749.5H827.3ZM337.8 749.5H370.4V768.6H337.8ZM403.1 749.5H435.7V768.6H403.1ZM468.3 749.5H501.0V768.6H468.3ZM533.6 749.5H566.2V768.6H533.6ZM598.9 749.5H631.5V768.6H598.9ZM664.1 749.5H696.8V768.6H664.1ZM729.4 749.5H762.0V768.6H729.4ZM794.7 749.5H827.3V768.6H794.7Z" fill="#ffffff" fill-opacity="0.57"/>
<rect x="307.5" y="528.5" width="531.7" height="240.1" fill="none" stroke="#1d6f96" stroke-opacity="0.45" stroke-width="0.8"/>
<path d="M307.5 768.2H839.2" stroke="#ffffff" stroke-opacity="0.8" stroke-width="1.4"/>
<defs>
<linearGradient id="gMantle" gradientUnits="userSpaceOnUse" x1="417" y1="0" x2="597" y2="0">
<stop offset="0" stop-color="#694439"/><stop offset="0.24" stop-color="#86655b"/><stop offset="0.44" stop-color="#a58d86"/>
<stop offset="0.6" stop-color="#c9bab5"/><stop offset="0.78" stop-color="#e3dbd8"/><stop offset="1" stop-color="#efe9e7"/></linearGradient>
<linearGradient id="gArms" gradientUnits="userSpaceOnUse" x1="337" y1="0" x2="420" y2="0">
<stop offset="0" stop-color="#0a0706"/><stop offset="0.14" stop-color="#3f2c27"/><stop offset="0.4" stop-color="#765850"/>
<stop offset="0.8" stop-color="#8e6f66"/><stop offset="1" stop-color="#7c5b52"/></linearGradient>
<linearGradient id="gFin" gradientUnits="userSpaceOnUse" x1="476" y1="0" x2="560" y2="0">
<stop offset="0" stop-color="#5f3d35"/><stop offset="0.6" stop-color="#70493f"/><stop offset="1" stop-color="#94756b"/></linearGradient>
<linearGradient id="gTailFin" gradientUnits="userSpaceOnUse" x1="556" y1="0" x2="592" y2="0">
<stop offset="0" stop-color="#a98f88"/><stop offset="1" stop-color="#e9e2df"/></linearGradient>
<linearGradient id="gTailIn" gradientUnits="userSpaceOnUse" x1="525" y1="0" x2="592" y2="0">
<stop offset="0" stop-color="#c4b0aa"/><stop offset="0.5" stop-color="#b59d96"/><stop offset="1" stop-color="#a88e86"/></linearGradient>
<linearGradient id="gArmsC" gradientUnits="userSpaceOnUse" x1="360" y1="665" x2="420" y2="625">
<stop offset="0" stop-color="#d9dde2"/><stop offset="0.25" stop-color="#8d8f98"/><stop offset="0.6" stop-color="#7a5d55"/>
<stop offset="1" stop-color="#7c5b52"/></linearGradient>

</defs>
<g transform="translate(528.7,712.2) rotate(-9.15) scale(0.4709) translate(-409.6,-636.5)">
<path d="M556 638.2 Q562 637.6 566.5 636.2 Q570.5 635.2 574.5 635.6 Q579.5 636.6 582.6 638.9 L588 643.4 L592.5 647.2 L575 644 Z" fill="url(#gTailFin)" stroke="#000" stroke-width="0.9" stroke-linejoin="round"/>
<path d="M536 632.5 L563 639.2 L586.2 645.7 Q595.5 648.2 597.3 650.3 Q597.6 652.6 594 653.9 L573.3 656.4 L542 658.6 L520 659 Z" fill="#fff" stroke="#000" stroke-width="0.9" stroke-linejoin="round"/>
<path d="M530 640 L553.9 645.7 L586.2 649.9 Q591.6 650.8 591.4 651.3 Q591 652.2 586.2 652.5 L547.5 654 L525 656 Z" fill="url(#gTailIn)" stroke="#000" stroke-width="0.7200000000000001" stroke-linejoin="round"/>
<path d="M419.1 621.8 Q432 621.8 446.2 622.3 Q460 623.2 474.7 624.9 L490.2 626.9 L536.7 632.6 Q548 634.8 557.3 637.8 L566 640.2 L556 648 L548 657.6 L536.7 659.8 Q510 660 492.7 658.5 L474.7 656.6 Q460 655.8 446.2 654.6 Q436 653.8 426.9 652 Q421.5 650.6 419.1 648.1 Q415.8 643.5 416.4 635 Q416.8 627 419.1 621.8Z" fill="url(#gMantle)"/>
<path d="M566 640.2 L557.3 637.8 Q548 634.8 536.7 632.6 L490.2 626.9 L474.7 624.9 Q460 623.2 446.2 622.3 Q432 621.8 419.1 621.8 Q416.8 627 416.4 635 Q415.8 643.5 419.1 648.1 Q421.5 650.6 426.9 652 Q436 653.8 446.2 654.6 Q460 655.8 474.7 656.6 L492.7 658.5 Q510 660 536.7 659.8 L548 657.6" fill="none" stroke="#000" stroke-width="0.9" stroke-linejoin="round"/>
<path d="M337.2 639.1 Q352 634 368.7 630 Q383 626.4 397.2 624.1 Q408 622.2 419.1 621.8 Q416.8 627 416.4 635 Q415.8 643.5 419.1 648.1 Q417 646 415.2 643 Q406 641 397.2 640.4 L368.7 640.4 Q352 640.2 337.2 639.1Z" fill="url(#gArms)" stroke="#000" stroke-width="0.9" stroke-linejoin="round"/>
<path d="M343 638.6 Q370 634.5 398 630.5M346 639.3 Q372 636.6 394 634.4" fill="none" stroke="#4b7384" stroke-width="0.7" stroke-opacity="0.8"/>
<path d="M476.7 641.7 Q486 646 498 648 Q512 650.4 524 650 Q538 649.6 549.6 648.1 Q545 654 536.7 659.8 Q531 662.4 526.3 663.6 Q521 665.4 516 665.4 Q510.5 665.2 505.7 663.6 Q495 660 486 652 Q481 647 476.7 641.7Z" fill="url(#gFin)" stroke="#000" stroke-width="0.9" stroke-linejoin="round"/>
<path d="M426 633.4 Q432 633 437 633.8M441 636 Q448 634 453.5 633.6M428 639 Q438 640.2 447 638.8M450 637.4 L455 636.6M428.6 644.4 Q438 646.2 447 645.2M429.6 649 Q438 651.2 446.4 650.4" fill="none" stroke="#3c6274" stroke-width="0.8" stroke-linecap="round"/>
<circle cx="409.6" cy="636.5" r="5.0" fill="#fff" stroke="#000" stroke-width="1.2"/>
<circle cx="410.4" cy="635.4" r="2.2" fill="#000"/>
</g>
<g transform="translate(527.7,685.8) rotate(0.10) scale(0.7028) translate(-409.6,-636.5)">
<path d="M556 638.2 Q562 637.6 566.5 636.2 Q570.5 635.2 574.5 635.6 Q579.5 636.6 582.6 638.9 L588 643.4 L592.5 647.2 L575 644 Z" fill="url(#gTailFin)" stroke="#000" stroke-width="0.9" stroke-linejoin="round"/>
<path d="M536 632.5 L563 639.2 L586.2 645.7 Q595.5 648.2 597.3 650.3 Q597.6 652.6 594 653.9 L573.3 656.4 L542 658.6 L520 659 Z" fill="#fff" stroke="#000" stroke-width="0.9" stroke-linejoin="round"/>
<path d="M530 640 L553.9 645.7 L586.2 649.9 Q591.6 650.8 591.4 651.3 Q591 652.2 586.2 652.5 L547.5 654 L525 656 Z" fill="url(#gTailIn)" stroke="#000" stroke-width="0.7200000000000001" stroke-linejoin="round"/>
<path d="M419.1 621.8 Q432 621.8 446.2 622.3 Q460 623.2 474.7 624.9 L490.2 626.9 L536.7 632.6 Q548 634.8 557.3 637.8 L566 640.2 L556 648 L548 657.6 L536.7 659.8 Q510 660 492.7 658.5 L474.7 656.6 Q460 655.8 446.2 654.6 Q436 653.8 426.9 652 Q421.5 650.6 419.1 648.1 Q415.8 643.5 416.4 635 Q416.8 627 419.1 621.8Z" fill="url(#gMantle)"/>
<path d="M566 640.2 L557.3 637.8 Q548 634.8 536.7 632.6 L490.2 626.9 L474.7 624.9 Q460 623.2 446.2 622.3 Q432 621.8 419.1 621.8 Q416.8 627 416.4 635 Q415.8 643.5 419.1 648.1 Q421.5 650.6 426.9 652 Q436 653.8 446.2 654.6 Q460 655.8 474.7 656.6 L492.7 658.5 Q510 660 536.7 659.8 L548 657.6" fill="none" stroke="#000" stroke-width="0.9" stroke-linejoin="round"/>
<path d="M337.2 639.1 Q352 634 368.7 630 Q383 626.4 397.2 624.1 Q408 622.2 419.1 621.8 Q416.8 627 416.4 635 Q415.8 643.5 419.1 648.1 Q417 646 415.2 643 Q406 641 397.2 640.4 L368.7 640.4 Q352 640.2 337.2 639.1Z" fill="url(#gArms)" stroke="#000" stroke-width="0.9" stroke-linejoin="round"/>
<path d="M343 638.6 Q370 634.5 398 630.5M346 639.3 Q372 636.6 394 634.4" fill="none" stroke="#4b7384" stroke-width="0.7" stroke-opacity="0.8"/>
<path d="M476.7 641.7 Q486 646 498 648 Q512 650.4 524 650 Q538 649.6 549.6 648.1 Q545 654 536.7 659.8 Q531 662.4 526.3 663.6 Q521 665.4 516 665.4 Q510.5 665.2 505.7 663.6 Q495 660 486 652 Q481 647 476.7 641.7Z" fill="url(#gFin)" stroke="#000" stroke-width="0.9" stroke-linejoin="round"/>
<path d="M426 633.4 Q432 633 437 633.8M441 636 Q448 634 453.5 633.6M428 639 Q438 640.2 447 638.8M450 637.4 L455 636.6M428.6 644.4 Q438 646.2 447 645.2M429.6 649 Q438 651.2 446.4 650.4" fill="none" stroke="#3c6274" stroke-width="0.8" stroke-linecap="round"/>
<circle cx="409.6" cy="636.5" r="5.0" fill="#fff" stroke="#000" stroke-width="1.2"/>
<circle cx="410.4" cy="635.4" r="2.2" fill="#000"/>
</g>
<g transform="translate(697.5,681.9) rotate(-20.46) scale(0.6128) translate(-409.6,-636.5)">
<path d="M556 638.2 Q562 637.6 566.5 636.2 Q570.5 635.2 574.5 635.6 Q579.5 636.6 582.6 638.9 L588 643.4 L592.5 647.2 L575 644 Z" fill="url(#gTailFin)" stroke="#000" stroke-width="0.9" stroke-linejoin="round"/>
<path d="M536 632.5 L563 639.2 L586.2 645.7 Q595.5 648.2 597.3 650.3 Q597.6 652.6 594 653.9 L573.3 656.4 L542 658.6 L520 659 Z" fill="#fff" stroke="#000" stroke-width="0.9" stroke-linejoin="round"/>
<path d="M530 640 L553.9 645.7 L586.2 649.9 Q591.6 650.8 591.4 651.3 Q591 652.2 586.2 652.5 L547.5 654 L525 656 Z" fill="url(#gTailIn)" stroke="#000" stroke-width="0.7200000000000001" stroke-linejoin="round"/>
<path d="M419.1 621.8 Q432 621.8 446.2 622.3 Q460 623.2 474.7 624.9 L490.2 626.9 L536.7 632.6 Q548 634.8 557.3 637.8 L566 640.2 L556 648 L548 657.6 L536.7 659.8 Q510 660 492.7 658.5 L474.7 656.6 Q460 655.8 446.2 654.6 Q436 653.8 426.9 652 Q421.5 650.6 419.1 648.1 Q415.8 643.5 416.4 635 Q416.8 627 419.1 621.8Z" fill="url(#gMantle)"/>
<path d="M566 640.2 L557.3 637.8 Q548 634.8 536.7 632.6 L490.2 626.9 L474.7 624.9 Q460 623.2 446.2 622.3 Q432 621.8 419.1 621.8 Q416.8 627 416.4 635 Q415.8 643.5 419.1 648.1 Q421.5 650.6 426.9 652 Q436 653.8 446.2 654.6 Q460 655.8 474.7 656.6 L492.7 658.5 Q510 660 536.7 659.8 L548 657.6" fill="none" stroke="#000" stroke-width="0.9" stroke-linejoin="round"/>
<path d="M337.2 639.1 Q352 634 368.7 630 Q383 626.4 397.2 624.1 Q408 622.2 419.1 621.8 Q416.8 627 416.4 635 Q415.8 643.5 419.1 648.1 Q417 646 415.2 643 Q406 641 397.2 640.4 L368.7 640.4 Q352 640.2 337.2 639.1Z" fill="url(#gArms)" stroke="#000" stroke-width="0.9" stroke-linejoin="round"/>
<path d="M343 638.6 Q370 634.5 398 630.5M346 639.3 Q372 636.6 394 634.4" fill="none" stroke="#4b7384" stroke-width="0.7" stroke-opacity="0.8"/>
<path d="M476.7 641.7 Q486 646 498 648 Q512 650.4 524 650 Q538 649.6 549.6 648.1 Q545 654 536.7 659.8 Q531 662.4 526.3 663.6 Q521 665.4 516 665.4 Q510.5 665.2 505.7 663.6 Q495 660 486 652 Q481 647 476.7 641.7Z" fill="url(#gFin)" stroke="#000" stroke-width="0.9" stroke-linejoin="round"/>
<path d="M426 633.4 Q432 633 437 633.8M441 636 Q448 634 453.5 633.6M428 639 Q438 640.2 447 638.8M450 637.4 L455 636.6M428.6 644.4 Q438 646.2 447 645.2M429.6 649 Q438 651.2 446.4 650.4" fill="none" stroke="#3c6274" stroke-width="0.8" stroke-linecap="round"/>
<circle cx="409.6" cy="636.5" r="5.0" fill="#fff" stroke="#000" stroke-width="1.2"/>
<circle cx="410.4" cy="635.4" r="2.2" fill="#000"/>
</g>
<g transform="translate(621.3,663.9) rotate(-13.38) scale(0.5124) translate(-409.6,-636.5)">
<path d="M556 638.2 Q562 637.6 566.5 636.2 Q570.5 635.2 574.5 635.6 Q579.5 636.6 582.6 638.9 L588 643.4 L592.5 647.2 L575 644 Z" fill="url(#gTailFin)" stroke="#000" stroke-width="0.9" stroke-linejoin="round"/>
<path d="M536 632.5 L563 639.2 L586.2 645.7 Q595.5 648.2 597.3 650.3 Q597.6 652.6 594 653.9 L573.3 656.4 L542 658.6 L520 659 Z" fill="#fff" stroke="#000" stroke-width="0.9" stroke-linejoin="round"/>
<path d="M530 640 L553.9 645.7 L586.2 649.9 Q591.6 650.8 591.4 651.3 Q591 652.2 586.2 652.5 L547.5 654 L525 656 Z" fill="url(#gTailIn)" stroke="#000" stroke-width="0.7200000000000001" stroke-linejoin="round"/>
<path d="M419.1 621.8 Q432 621.8 446.2 622.3 Q460 623.2 474.7 624.9 L490.2 626.9 L536.7 632.6 Q548 634.8 557.3 637.8 L566 640.2 L556 648 L548 657.6 L536.7 659.8 Q510 660 492.7 658.5 L474.7 656.6 Q460 655.8 446.2 654.6 Q436 653.8 426.9 652 Q421.5 650.6 419.1 648.1 Q415.8 643.5 416.4 635 Q416.8 627 419.1 621.8Z" fill="url(#gMantle)"/>
<path d="M566 640.2 L557.3 637.8 Q548 634.8 536.7 632.6 L490.2 626.9 L474.7 624.9 Q460 623.2 446.2 622.3 Q432 621.8 419.1 621.8 Q416.8 627 416.4 635 Q415.8 643.5 419.1 648.1 Q421.5 650.6 426.9 652 Q436 653.8 446.2 654.6 Q460 655.8 474.7 656.6 L492.7 658.5 Q510 660 536.7 659.8 L548 657.6" fill="none" stroke="#000" stroke-width="0.9" stroke-linejoin="round"/>
<path d="M420.4 623.2 Q396.9 622.9 374.9 636.5 Q365.0 647.3 361.1 658.1 L366.4 656.1 Q377.1 647.4 387.5 644.3 Q401.7 645.3 416.6 653.6 Q415.8 643.5 416.4 635 Q416.8 627 419.1 621.8Z" fill="url(#gArmsC)" stroke="#000" stroke-width="1.1700000000000002" stroke-linejoin="round"/>
<path d="M399.3 635.1 Q374.0 639.9 363.8 657.1" fill="none" stroke="#e9edf2" stroke-width="1.6" stroke-linecap="round"/>
<path d="M476.7 641.7 Q486 646 498 648 Q512 650.4 524 650 Q538 649.6 549.6 648.1 Q545 654 536.7 659.8 Q531 662.4 526.3 663.6 Q521 665.4 516 665.4 Q510.5 665.2 505.7 663.6 Q495 660 486 652 Q481 647 476.7 641.7Z" fill="url(#gFin)" stroke="#000" stroke-width="0.9" stroke-linejoin="round"/>
<path d="M426 633.4 Q432 633 437 633.8M441 636 Q448 634 453.5 633.6M428 639 Q438 640.2 447 638.8M450 637.4 L455 636.6M428.6 644.4 Q438 646.2 447 645.2M429.6 649 Q438 651.2 446.4 650.4" fill="none" stroke="#3c6274" stroke-width="0.8" stroke-linecap="round"/>
<circle cx="409.6" cy="636.5" r="5.0" fill="#fff" stroke="#000" stroke-width="1.2"/>
<circle cx="410.4" cy="635.4" r="2.2" fill="#000"/>
</g>
<g transform="translate(624.9,732.7) rotate(-13.30) scale(0.5344) translate(-409.6,-636.5)">
<path d="M556 638.2 Q562 637.6 566.5 636.2 Q570.5 635.2 574.5 635.6 Q579.5 636.6 582.6 638.9 L588 643.4 L592.5 647.2 L575 644 Z" fill="url(#gTailFin)" stroke="#000" stroke-width="0.9" stroke-linejoin="round"/>
<path d="M536 632.5 L563 639.2 L586.2 645.7 Q595.5 648.2 597.3 650.3 Q597.6 652.6 594 653.9 L573.3 656.4 L542 658.6 L520 659 Z" fill="#fff" stroke="#000" stroke-width="0.9" stroke-linejoin="round"/>
<path d="M530 640 L553.9 645.7 L586.2 649.9 Q591.6 650.8 591.4 651.3 Q591 652.2 586.2 652.5 L547.5 654 L525 656 Z" fill="url(#gTailIn)" stroke="#000" stroke-width="0.7200000000000001" stroke-linejoin="round"/>
<path d="M419.1 621.8 Q432 621.8 446.2 622.3 Q460 623.2 474.7 624.9 L490.2 626.9 L536.7 632.6 Q548 634.8 557.3 637.8 L566 640.2 L556 648 L548 657.6 L536.7 659.8 Q510 660 492.7 658.5 L474.7 656.6 Q460 655.8 446.2 654.6 Q436 653.8 426.9 652 Q421.5 650.6 419.1 648.1 Q415.8 643.5 416.4 635 Q416.8 627 419.1 621.8Z" fill="url(#gMantle)"/>
<path d="M566 640.2 L557.3 637.8 Q548 634.8 536.7 632.6 L490.2 626.9 L474.7 624.9 Q460 623.2 446.2 622.3 Q432 621.8 419.1 621.8 Q416.8 627 416.4 635 Q415.8 643.5 419.1 648.1 Q421.5 650.6 426.9 652 Q436 653.8 446.2 654.6 Q460 655.8 474.7 656.6 L492.7 658.5 Q510 660 536.7 659.8 L548 657.6" fill="none" stroke="#000" stroke-width="0.9" stroke-linejoin="round"/>
<path d="M420.4 623.2 Q396.9 622.9 374.9 636.5 Q365.0 647.3 361.1 658.1 L366.4 656.1 Q377.1 647.4 387.5 644.3 Q401.7 645.3 416.6 653.6 Q415.8 643.5 416.4 635 Q416.8 627 419.1 621.8Z" fill="url(#gArmsC)" stroke="#000" stroke-width="1.1700000000000002" stroke-linejoin="round"/>
<path d="M399.3 635.1 Q374.0 639.9 363.8 657.1" fill="none" stroke="#e9edf2" stroke-width="1.6" stroke-linecap="round"/>
<path d="M476.7 641.7 Q486 646 498 648 Q512 650.4 524 650 Q538 649.6 549.6 648.1 Q545 654 536.7 659.8 Q531 662.4 526.3 663.6 Q521 665.4 516 665.4 Q510.5 665.2 505.7 663.6 Q495 660 486 652 Q481 647 476.7 641.7Z" fill="url(#gFin)" stroke="#000" stroke-width="0.9" stroke-linejoin="round"/>
<path d="M426 633.4 Q432 633 437 633.8M441 636 Q448 634 453.5 633.6M428 639 Q438 640.2 447 638.8M450 637.4 L455 636.6M428.6 644.4 Q438 646.2 447 645.2M429.6 649 Q438 651.2 446.4 650.4" fill="none" stroke="#3c6274" stroke-width="0.8" stroke-linecap="round"/>
<circle cx="409.6" cy="636.5" r="5.0" fill="#fff" stroke="#000" stroke-width="1.2"/>
<circle cx="410.4" cy="635.4" r="2.2" fill="#000"/>
</g>
<g>
<path d="M556 638.2 Q562 637.6 566.5 636.2 Q570.5 635.2 574.5 635.6 Q579.5 636.6 582.6 638.9 L588 643.4 L592.5 647.2 L575 644 Z" fill="url(#gTailFin)" stroke="#000" stroke-width="0.9" stroke-linejoin="round"/>
<path d="M536 632.5 L563 639.2 L586.2 645.7 Q595.5 648.2 597.3 650.3 Q597.6 652.6 594 653.9 L573.3 656.4 L542 658.6 L520 659 Z" fill="#fff" stroke="#000" stroke-width="0.9" stroke-linejoin="round"/>
<path d="M530 640 L553.9 645.7 L586.2 649.9 Q591.6 650.8 591.4 651.3 Q591 652.2 586.2 652.5 L547.5 654 L525 656 Z" fill="url(#gTailIn)" stroke="#000" stroke-width="0.7200000000000001" stroke-linejoin="round"/>
<path d="M419.1 621.8 Q432 621.8 446.2 622.3 Q460 623.2 474.7 624.9 L490.2 626.9 L536.7 632.6 Q548 634.8 557.3 637.8 L566 640.2 L556 648 L548 657.6 L536.7 659.8 Q510 660 492.7 658.5 L474.7 656.6 Q460 655.8 446.2 654.6 Q436 653.8 426.9 652 Q421.5 650.6 419.1 648.1 Q415.8 643.5 416.4 635 Q416.8 627 419.1 621.8Z" fill="url(#gMantle)"/>
<path d="M566 640.2 L557.3 637.8 Q548 634.8 536.7 632.6 L490.2 626.9 L474.7 624.9 Q460 623.2 446.2 622.3 Q432 621.8 419.1 621.8 Q416.8 627 416.4 635 Q415.8 643.5 419.1 648.1 Q421.5 650.6 426.9 652 Q436 653.8 446.2 654.6 Q460 655.8 474.7 656.6 L492.7 658.5 Q510 660 536.7 659.8 L548 657.6" fill="none" stroke="#000" stroke-width="0.9" stroke-linejoin="round"/>
<path d="M337.2 639.1 Q352 634 368.7 630 Q383 626.4 397.2 624.1 Q408 622.2 419.1 621.8 Q416.8 627 416.4 635 Q415.8 643.5 419.1 648.1 Q417 646 415.2 643 Q406 641 397.2 640.4 L368.7 640.4 Q352 640.2 337.2 639.1Z" fill="url(#gArms)" stroke="#000" stroke-width="0.9" stroke-linejoin="round"/>
<path d="M343 638.6 Q370 634.5 398 630.5M346 639.3 Q372 636.6 394 634.4" fill="none" stroke="#4b7384" stroke-width="0.7" stroke-opacity="0.8"/>
<path d="M476.7 641.7 Q486 646 498 648 Q512 650.4 524 650 Q538 649.6 549.6 648.1 Q545 654 536.7 659.8 Q531 662.4 526.3 663.6 Q521 665.4 516 665.4 Q510.5 665.2 505.7 663.6 Q495 660 486 652 Q481 647 476.7 641.7Z" fill="url(#gFin)" stroke="#000" stroke-width="0.9" stroke-linejoin="round"/>
<path d="M426 633.4 Q432 633 437 633.8M441 636 Q448 634 453.5 633.6M428 639 Q438 640.2 447 638.8M450 637.4 L455 636.6M428.6 644.4 Q438 646.2 447 645.2M429.6 649 Q438 651.2 446.4 650.4" fill="none" stroke="#3c6274" stroke-width="0.8" stroke-linecap="round"/>
<circle cx="409.6" cy="636.5" r="5.0" fill="#fff" stroke="#000" stroke-width="1.2"/>
<circle cx="410.4" cy="635.4" r="2.2" fill="#000"/>
<path d="M489.5 627 Q492 623.6 496.5 621.8 Q503 619.8 510 620.2 L517.5 620.8 L517 631 Q503 629 489.5 627Z" fill="#d9d9df" stroke="#4a4a55" stroke-width="0.7"/>
<path d="M494 626.6 Q505 626.4 516.8 628.6" fill="none" stroke="#8d8d9a" stroke-width="0.8"/>
<path d="M517.2 620.6 L533 622.2 Q536 623 536 626 L535.6 631.4 L516.6 629.6Z" fill="#5f6fc8" stroke="#3b2a8a" stroke-width="0.6"/>
<path d="M517.4 620.8 L533 622.4 L533 625.2 L517.2 623.8Z" fill="#6a2fb8"/>
<path d="M486 626 L491 627.4M534 631.6 L540 633" stroke="#333" stroke-width="1" fill="none"/>
</g>
<path d="M493.9 547.7 Q501.8 580 512.6 604.5" stroke="#000" stroke-width="2.0" fill="none"/>
<path d="M509.5 597.2L512.7 604.7" stroke="#000" stroke-width="2.0" fill="none"/>
<path d="M517.1 614.9L507.0 603.8L512.7 604.7L516.0 599.9Z" fill="#000"/>
<path d="M247.4,436.4 248.4,419.0 249.3,400.0 250.6,380.0 251.9,356.8 254.9,356.8 254.9,309.1 261.4,309.1 261.4,373.1 266.1,373.1 266.1,391.7 272.6,391.7 272.6,403.5 277.6,403.5 277.6,423.8 283.7,423.8 283.9,432.5 290.0,434.6 288.0,438.6 286.4,441.1 281.3,441.1 281.3,454.3 276.2,454.3 276.2,468.5 270.1,468.5 270.1,486.7 265.0,486.7 263.6,503.0 263.0,541.5 257.3,541.5 257.3,533.4 254.3,533.4 254.3,502.0 251.9,502.0 251.9,484.7 249.2,484.7 249.2,450.2 247.6,450.2ZM614.0,436.2 614.8,420.0 615.8,405.0 616.4,396.3 619.0,396.3 619.0,363.8 622.5,363.8 622.5,328.7 628.6,328.7 628.6,380.0 633.6,380.0 633.6,405.0 639.7,405.0 639.7,403.4 645.8,403.4 645.8,426.3 651.9,426.3 652.0,433.0 660.0,434.5 658.0,438.5 651.0,440.9 649.3,440.9 649.3,452.1 643.2,452.1 643.2,478.5 637.7,478.5 637.7,485.5 631.6,485.5 630.9,500.0 630.6,542.4 624.5,542.4 624.5,538.3 618.4,538.3 618.4,495.7 616.4,495.7 616.4,480.5 614.6,480.5Z" fill="#000"/>
<path d="M284 433.5 L296 434.6 L304 434.9 L308 433.4 L314 433 L319.8 434.6 L330 435.6 L330 437.4 L319.8 438.6 L314 439.8 L308 439.6 L303 438.2 L294 438.6 L284 440Z" fill="#000"/>
<path d="M652 432.8 L660 433.5 L667 433.2 L672 434.6 L678 433.6 L686 434.4 L696 435.5 L696 437 L686 438.2 L678 439.4 L672 439.9 L667 438.6 L660 439.6 L652 439.9Z" fill="#000"/>
<path d="M135.1,436.40 137.0,436.29 140.0,436.49 142.8,436.42 146.6,436.13 150.8,436.12 154.9,436.14 157.7,436.35 163.1,436.17 166.3,436.48 172.2,436.45 176.1,436.69 178.7,436.62 182.2,436.19 185.1,436.29 190.5,436.21 195.0,436.48 198.8,436.43 201.6,436.14 204.8,436.51 208.8,436.29 213.3,436.37 216.9,436.58 221.8,436.25 226.3,436.42 231.9,436.54 235.4,436.69 238.3,436.35 243.5,436.19 247.7,436.12 252.5,436.56 257.0,436.63 260.6,436.52 265.2,436.45 269.3,436.60 275.1,436.38 279.9,436.14 284.9,436.49 290.9,436.59 294.4,436.33 299.2,436.11 303.3,436.20 306.2,436.14 311.4,436.18 314.8,436.33 320.3,436.15 324.4,436.43 330.0,436.59 335.5,436.27 339.5,436.32 345.1,436.67 348.1,436.21 351.4,436.24 355.6,436.45 359.0,436.10 363.0,436.32 367.5,436.67 372.4,436.41 377.0,436.51 379.7,436.64 385.0,436.62 390.3,436.34 394.2,436.16 398.9,436.14 401.6,436.23 404.7,436.30 407.4,436.10 410.4,436.16 414.2,436.12 419.7,436.47 422.7,436.25 426.5,436.32 429.4,436.61 435.4,436.38 439.6,436.15 442.4,436.31 445.8,436.60 448.9,436.11 454.7,436.42 457.7,436.43 460.3,436.42 466.3,436.62 471.2,436.26 475.0,436.20 480.2,436.42 485.4,436.30 488.7,436.59 494.6,436.61 500.0,436.59 505.1,436.24 509.4,436.31 512.0,436.12 515.4,436.26 520.4,436.67 524.4,436.66 530.4,436.67 534.2,436.23 537.5,436.22 540.7,436.47 546.3,436.60 550.5,436.49 555.8,436.15 560.6,436.65 565.9,436.55 570.0,436.21 575.3,436.30 580.6,436.68 584.5,436.34 590.3,436.53 593.4,436.18 596.4,436.64 601.7,436.19 607.1,436.69 611.9,436.31 616.4,436.18 618.9,436.68 623.7,436.42 629.4,436.36 635.0,436.60 638.2,436.25 641.8,436.24 646.3,436.26 650.3,436.18 656.0,436.31 660.1,436.45 665.7,436.35 671.4,436.40 675.8,436.41 678.4,436.36 681.5,436.10 686.8,436.20 691.0,436.54 695.4,436.30 699.7,436.43 705.0,436.16 709.4,436.25 712.9,436.56 717.2,436.44 722.3,436.65 726.4,436.47 730.7,436.41 735.6,436.37 740.0,436.39 745.7,436.52 751.3,436.67 754.7,436.44 760.5,436.60 763.5,436.17 767.6,436.14 770.9,436.14 775.7,436.57 781.4,436.19 786.4,436.50 789.4,436.63 795.3,436.23 796.0,436.20" stroke="#000" stroke-width="1.9" fill="none" stroke-linejoin="round"/>
</g>
<g id="panelB">
<text x="0.5" y="864.9" font-family="'Liberation Sans', Arial, Helvetica, sans-serif" font-weight="700" font-size="29" fill="#000">B</text>
<path d="M279.8 872.9V1367.4M435.9 872.9V1367.4M592.1 872.9V1367.4M748.2 872.9V1367.4M904.3 872.9V1367.4M123.6 1284.9H1060.5M123.6 1202.5H1060.5M123.6 1120.1H1060.5M123.6 1037.7H1060.5M123.6 955.3H1060.5" stroke="#e2e2e2" stroke-width="1.2" fill="none"/>
<path d="M124.1,1130.5 125.9,1132.5 127.7,1133.2 129.5,1133.3 131.4,1134.6 133.2,1135.4 134.9,1134.5 136.7,1133.4 138.4,1131.0 140.2,1129.6 141.9,1129.7 143.6,1127.7 145.4,1127.0 147.0,1126.7 148.6,1128.3 150.2,1129.6 151.9,1129.7 153.5,1131.7 155.2,1131.0 156.9,1128.9 158.6,1128.2 160.3,1128.4 161.9,1128.4 163.6,1126.8 165.3,1127.2 167.0,1128.2 168.7,1128.3 170.4,1129.2 172.1,1130.3 173.8,1131.0 175.5,1129.9 177.2,1129.3 178.9,1128.6 180.6,1128.3 182.2,1127.3 183.9,1126.2 185.6,1128.4 187.3,1128.8 189.0,1129.7 190.7,1129.9 192.4,1132.0 194.1,1132.6 195.9,1132.0 197.6,1132.8 199.4,1133.9 201.2,1134.4 203.0,1135.7 204.9,1135.8 206.8,1137.3 208.6,1138.0 210.5,1138.3 212.3,1139.7 214.2,1139.6 216.0,1139.0 217.8,1137.9 219.7,1137.4 221.5,1136.0 223.3,1137.0 225.1,1138.6 227.0,1138.7 228.8,1139.0 230.6,1140.2 232.4,1139.1 234.2,1137.7 236.0,1135.9 237.8,1134.7 239.6,1133.4 241.4,1132.5 243.3,1133.3 245.2,1134.3 247.1,1135.7 249.0,1136.2 250.9,1137.4 252.8,1137.9 254.6,1137.8 256.5,1136.6 258.4,1135.7 260.2,1134.7 262.1,1134.7 263.7,1136.4 265.3,1136.9 266.9,1137.4 268.6,1138.8 270.2,1138.7 272.1,1137.8 273.9,1137.2 275.8,1135.2 277.6,1133.7 279.5,1132.0 281.4,1131.1 283.0,1132.4 284.7,1131.6 286.4,1133.5 288.1,1134.3 289.8,1135.0 291.5,1135.5 293.1,1134.9 294.8,1133.7 296.4,1133.0 298.0,1132.1 299.6,1131.4 301.2,1132.0 301.5,894.8 303.0,1303.9 306.0,1150.0 307.5,1180.0 310.2,1134.3 312.4,1155.3 314.5,1156.1 316.7,1155.1 318.5,1153.4 320.4,1152.8 322.2,1151.7 324.0,1150.8 325.8,1150.1 327.6,1149.6 329.8,1142.1 331.6,1144.4 333.4,1146.5 335.2,1148.4 337.1,1149.6 339.1,1151.8 341.1,1149.4 343.0,1147.7 345.0,1145.8 346.9,1140.8 348.8,1135.9 350.7,1131.1 352.6,1125.3 354.3,1121.9 356.1,1117.3 357.8,1112.0 359.6,1107.5 361.3,1103.1 363.0,1101.9 364.6,1098.7 366.3,1096.1 367.9,1094.6 369.6,1091.8 371.4,1092.6 373.2,1094.1 375.1,1095.9 376.9,1096.7 378.7,1098.1 380.5,1099.2 382.3,1099.2 384.1,1099.3 386.0,1099.9 387.8,1099.6 389.6,1100.5 391.3,1101.7 393.1,1102.4 394.8,1103.3 396.6,1105.7 398.3,1106.1 400.1,1107.3 401.9,1109.5 403.7,1111.5 405.5,1111.9 407.3,1113.5 409.1,1115.3 410.9,1119.5 412.8,1121.9 414.6,1126.0 416.4,1128.0 418.2,1129.8 420.0,1131.3 421.7,1132.0 423.5,1131.3 425.2,1130.5 427.0,1129.6 428.7,1129.8 430.4,1129.5 432.2,1129.9 433.9,1129.6 435.7,1130.1 437.4,1130.0 440.0,1126.5 442.0,1125.4 444.0,1125.0 446.0,1123.4 447.8,1123.6 449.5,1125.6 451.3,1125.9 453.1,1128.0 454.9,1128.8 456.7,1125.8 458.5,1123.2 460.3,1120.4 462.2,1119.4 464.0,1115.6 465.7,1116.3 467.4,1115.9 469.1,1114.7 470.8,1113.5 472.6,1114.0 474.3,1113.6 476.0,1112.6 477.7,1112.9 479.4,1113.3 481.1,1113.8 482.8,1114.2 484.5,1115.5 486.3,1115.7 488.0,1115.9 489.8,1116.9 491.6,1119.0 493.4,1119.6 495.2,1121.2 496.8,1122.6 498.5,1125.1 500.2,1126.8 501.9,1127.1 503.6,1129.1 505.2,1129.6 506.9,1130.9 508.5,1130.9 510.2,1130.5 511.8,1130.6 513.5,1131.6 515.1,1132.2 516.8,1132.7 518.7,1132.9 520.6,1135.0 522.5,1135.9 524.4,1136.7 526.4,1138.7 528.2,1135.9 529.9,1135.1 531.7,1132.5 533.5,1131.0 535.3,1130.6 537.1,1127.9 538.8,1129.6 540.5,1130.2 542.2,1131.5 543.9,1131.6 545.5,1132.4 547.3,1131.4 549.1,1131.4 550.9,1130.1 552.7,1129.7 554.5,1128.7 556.3,1126.6 558.0,1127.8 559.7,1127.7 561.4,1128.2 563.1,1128.8 564.7,1130.6 566.5,1129.8 568.3,1129.2 570.1,1127.7 571.9,1127.5 573.7,1127.1 575.5,1125.8 577.2,1127.2 578.9,1127.7 580.6,1128.6 582.2,1130.0 583.9,1132.1 585.7,1131.2 587.5,1131.4 589.3,1130.3 591.1,1129.7 592.8,1131.4 594.5,1132.3 596.2,1131.9 597.8,1133.8 599.5,1133.7 601.4,1132.9 603.3,1133.2 605.3,1131.0 607.2,1130.5 609.1,1130.8 610.8,1130.5 612.5,1130.7 614.1,1131.4 615.8,1132.1 617.5,1133.5 619.3,1131.2 621.1,1131.2 622.9,1129.0 624.7,1128.6 626.5,1129.8 628.3,1130.1 630.1,1131.3 631.9,1133.0 633.7,1133.6 635.5,1135.8 637.2,1134.2 638.8,1133.5 640.5,1134.5 642.2,1132.7 643.9,1132.6 645.7,1133.3 647.5,1134.1 649.3,1134.6 651.1,1136.9 652.9,1136.0 654.7,1135.0 656.5,1132.5 658.3,1131.7 660.1,1131.3 661.9,1130.8 663.6,1130.3 665.2,1130.6 666.9,1130.7 668.6,1130.2 670.3,1130.8 672.1,1129.6 673.9,1128.6 675.7,1127.4 677.5,1126.8 679.3,1128.7 681.1,1128.7 682.9,1129.8 684.7,1130.6 686.5,1131.9 688.3,1132.0 689.5,1133.0 690.5,1100.0 692.2,1241.1 693.9,1200.3 695.5,1160.0 697.0,1185.0 698.5,1140.0 700.4,1189.1 703.0,1100.0 705.7,1055.8 707.4,1087.8 709.0,1120.0 711.0,1135.0 713.0,1118.6 714.8,1118.4 716.5,1117.3 718.3,1117.1 720.0,1118.3 721.8,1119.1 723.5,1119.9 725.3,1120.1 727.0,1120.5 728.8,1121.0 730.6,1120.9 732.4,1121.8 734.3,1119.1 736.2,1117.2 738.1,1116.2 740.0,1113.8 741.7,1112.5 743.5,1110.0 745.2,1108.0 746.5,1092.4 748.7,1102.8 750.9,1106.5 753.0,1112.0 754.8,1113.5 756.7,1113.5 758.5,1115.9 760.4,1116.9 762.2,1120.0 764.1,1122.5 766.0,1124.4 768.2,1124.2 770.4,1124.4 772.1,1123.1 773.9,1121.8 775.6,1118.8 777.4,1117.8 779.1,1114.6 780.8,1116.7 782.6,1116.2 784.3,1117.5 786.1,1119.4 787.8,1120.1 789.5,1120.0 791.3,1119.7 793.0,1119.3 794.8,1119.0 796.5,1118.0 798.1,1117.6 799.8,1116.3 801.4,1116.4 803.0,1115.5 804.8,1118.8 806.7,1122.5 808.5,1127.9 810.6,1129.3 812.8,1130.5 814.6,1129.1 816.4,1128.2 818.2,1126.1 820.0,1124.6 821.8,1121.8 823.6,1119.0 825.4,1115.9 827.2,1114.2 828.9,1112.6 830.6,1111.7 832.2,1109.7 833.9,1108.9 835.6,1107.4 837.4,1108.0 839.2,1108.8 841.0,1110.3 842.8,1110.2 844.5,1108.5 846.1,1107.2 847.8,1104.9 849.5,1102.9 851.2,1102.0 852.9,1101.4 854.5,1101.0 856.2,1100.0 857.9,1099.8 859.6,1099.2 861.4,1098.7 863.2,1099.3 865.0,1099.5 866.8,1099.4 868.6,1099.9 870.4,1100.4 872.1,1100.6 873.7,1100.2 875.4,1098.8 877.1,1099.0 878.8,1097.7 880.6,1097.1 882.4,1097.2 884.2,1097.2 886.0,1095.4 888.0,1098.0 890.0,1099.8 892.0,1100.5 894.0,1102.7 896.0,1104.5 898.0,1105.4 900.0,1105.7 902.0,1105.6 904.0,1105.2 905.6,1105.4 907.3,1105.2 909.0,1105.1 910.7,1104.2 912.3,1103.4 914.0,1104.6 915.7,1105.6 917.4,1107.2 919.1,1108.5 920.7,1108.5 922.7,1111.0 924.6,1112.7 926.5,1113.7 928.4,1115.5 930.3,1116.6 932.1,1118.1 933.9,1117.7 935.7,1119.9 937.5,1120.3 939.3,1120.7 941.1,1120.8 942.8,1120.9 944.5,1120.0 946.2,1117.7 947.8,1117.8 949.5,1116.9 951.2,1115.7 952.9,1114.8 954.6,1113.4 956.2,1113.2 957.9,1112.3 959.7,1111.0 961.5,1111.3 963.3,1110.3 965.1,1109.4 966.9,1109.3 968.7,1108.6 970.4,1110.3 972.1,1110.9 973.8,1110.0 975.4,1111.3 977.1,1111.4 978.9,1110.4 980.7,1110.0 982.5,1109.4 984.3,1109.6 986.1,1107.8 987.9,1107.5 989.6,1107.5 991.3,1106.4 993.0,1106.9 994.8,1106.5 996.5,1106.5 998.2,1105.0 999.9,1104.8 1001.7,1106.2 1003.5,1106.8 1005.3,1108.3 1007.1,1108.8 1008.9,1111.3 1010.7,1113.2 1012.5,1115.1 1014.3,1117.1 1016.2,1116.7 1018.1,1116.8 1020.0,1117.7 1022.0,1117.8 1023.9,1117.7 1025.8,1117.4 1027.7,1117.2 1029.6,1116.9 1031.6,1118.1 1033.5,1117.0 1035.3,1118.6 1037.1,1118.8 1038.9,1120.1 1040.7,1120.4 1042.6,1121.0 1044.5,1119.9 1046.4,1120.7 1048.4,1121.0 1050.3,1120.9 1052.0,1122.6 1053.6,1123.8 1055.3,1125.5 1057.0,1126.1 1058.7,1128.4" stroke="#0072BD" stroke-width="3.4" fill="none" stroke-linejoin="round" stroke-linecap="butt"/>
<path d="M124.1,1113.1 127.1,1110.4 128.8,1110.2 130.5,1111.4 132.2,1113.7 133.8,1113.7 135.4,1113.7 137.0,1113.2 138.7,1113.8 140.3,1114.0 142.3,1112.9 144.4,1111.2 146.4,1110.6 148.2,1110.1 149.9,1110.1 151.7,1110.0 153.5,1109.4 155.5,1110.0 157.5,1111.1 159.6,1112.0 161.5,1110.6 163.3,1109.6 165.2,1109.3 167.1,1108.0 168.8,1109.1 170.4,1111.0 172.1,1111.4 173.8,1112.5 175.6,1111.6 177.3,1111.0 179.1,1111.2 180.9,1110.6 182.6,1110.2 184.3,1110.1 186.0,1108.6 188.0,1108.3 190.0,1109.9 192.1,1110.2 193.7,1108.7 195.4,1107.6 197.1,1106.0 198.7,1104.7 200.4,1105.1 202.0,1107.2 203.6,1108.3 205.2,1108.2 207.0,1109.4 208.8,1109.6 210.6,1109.4 212.3,1109.8 214.1,1110.9 215.9,1112.7 217.7,1113.2 219.5,1114.9 221.5,1113.8 223.5,1114.2 225.5,1113.8 227.4,1112.3 229.3,1111.7 231.2,1111.4 233.1,1112.3 234.9,1113.2 236.7,1113.9 238.5,1114.5 240.3,1115.4 242.0,1114.9 243.8,1116.5 245.8,1114.8 247.9,1115.1 249.9,1113.5 251.5,1114.6 253.1,1114.4 254.8,1114.2 256.4,1114.3 258.0,1114.6 259.6,1114.7 261.3,1114.4 262.9,1114.4 264.5,1115.1 266.1,1115.9 267.8,1114.4 269.4,1112.6 271.0,1112.8 272.6,1111.7 274.3,1111.0 276.3,1109.3 278.3,1109.6 280.3,1108.0 282.0,1109.2 283.6,1108.8 285.2,1108.9 286.8,1110.1 288.5,1109.1 290.2,1109.7 291.8,1110.1 293.5,1109.0 295.2,1108.9 296.9,1109.8 298.6,1109.1 300.4,1110.4 301.5,1170.2 303.7,1119.1 306.5,1086.5 308.3,1127.8 310.2,1099.6 312.4,1119.0 314.6,1108.1 316.7,1095.6 318.6,1100.1 320.4,1103.8 322.2,1108.5 323.8,1105.4 325.4,1104.6 327.1,1101.0 328.7,1099.9 330.3,1102.6 332.0,1106.8 333.6,1111.5 335.2,1114.2 336.8,1120.3 338.5,1127.0 340.3,1123.7 342.1,1120.2 343.9,1118.8 345.7,1118.6 347.5,1119.5 349.3,1121.1 351.2,1120.1 353.2,1119.0 355.1,1116.6 357.0,1115.6 358.7,1115.3 360.4,1116.2 362.2,1116.9 363.9,1117.1 365.7,1117.6 367.3,1116.6 368.9,1115.9 370.5,1114.8 372.2,1113.7 374.3,1114.3 376.5,1116.1 378.7,1114.5 380.9,1113.1 382.5,1116.3 384.1,1119.7 385.8,1121.3 387.4,1124.7 389.0,1122.8 390.7,1121.3 392.3,1119.1 393.9,1118.8 395.5,1115.2 397.2,1113.3 398.8,1110.6 400.4,1107.5 402.4,1119.2 404.3,1129.4 406.7,1121.1 409.1,1112.9 410.9,1112.5 412.6,1111.7 414.3,1112.0 416.1,1111.1 417.8,1111.2 420.0,1115.5 422.2,1119.9 423.8,1119.2 425.4,1120.1 427.1,1120.4 428.7,1121.5 430.3,1121.0 432.0,1120.7 433.6,1120.0 435.2,1118.7 436.8,1119.0 438.5,1119.2 440.1,1118.3 441.7,1118.4 443.4,1116.6 445.0,1113.8 446.6,1112.4 448.3,1109.3 449.9,1106.7 451.5,1104.5 453.4,1109.5 455.3,1114.3 457.2,1119.7 459.1,1124.5 460.8,1122.1 462.4,1120.4 464.0,1117.6 465.7,1115.9 466.4,1117.0 468.2,1116.5 470.0,1115.5 471.8,1114.5 473.6,1114.0 475.3,1113.5 476.9,1112.0 478.6,1112.0 480.3,1111.5 482.0,1110.3 483.6,1110.5 485.3,1111.9 486.9,1111.5 488.6,1112.1 490.2,1113.0 491.9,1112.8 493.5,1112.6 495.2,1114.0 496.8,1113.6 498.5,1113.6 500.2,1115.2 501.9,1114.8 503.6,1115.7 505.2,1117.1 506.9,1117.4 508.6,1116.9 510.3,1118.1 512.0,1118.6 513.7,1118.4 515.4,1117.6 517.1,1117.9 518.8,1116.7 520.5,1116.7 522.2,1116.5 524.0,1117.1 525.7,1116.2 527.4,1117.8 529.1,1117.4 530.8,1118.5 532.5,1118.8 534.2,1119.4 535.9,1120.4 537.7,1118.9 539.5,1117.6 541.3,1116.7 543.1,1115.7 544.9,1117.5 546.7,1117.8 548.5,1118.9 550.3,1119.1 552.3,1117.5 554.2,1118.1 556.1,1117.8 558.0,1117.2 559.9,1116.4 561.6,1116.4 563.3,1116.8 565.0,1117.6 566.6,1117.0 568.3,1117.6 570.2,1116.6 572.2,1116.4 574.1,1115.2 576.0,1114.4 577.9,1113.3 579.6,1113.2 581.3,1113.8 583.0,1114.9 584.6,1115.3 586.3,1116.3 588.2,1116.5 590.2,1116.8 592.1,1116.1 594.0,1116.3 595.9,1115.0 597.6,1116.5 599.3,1118.7 600.9,1118.4 602.6,1119.9 604.3,1120.5 606.0,1119.8 607.7,1120.4 609.3,1119.8 611.0,1118.5 612.7,1117.0 614.6,1117.5 616.5,1117.6 618.5,1118.6 620.4,1118.8 622.3,1118.7 624.2,1118.2 626.1,1116.9 628.1,1117.0 630.0,1117.0 631.9,1116.1 633.6,1115.7 635.3,1117.0 637.0,1118.0 638.7,1118.0 640.5,1119.7 642.2,1119.7 643.9,1120.8 645.6,1120.1 647.3,1120.8 649.0,1120.2 650.7,1119.6 652.5,1118.7 654.2,1118.9 655.9,1118.0 657.8,1118.3 659.7,1118.1 661.6,1116.4 663.6,1116.3 665.5,1115.6 667.3,1116.1 669.1,1117.2 670.9,1118.1 672.7,1118.4 674.6,1117.0 676.5,1116.9 678.4,1114.9 680.3,1114.6 682.3,1113.5 684.3,1114.5 686.3,1115.4 688.3,1115.2 690.2,1116.7 692.2,1117.2 694.6,1116.6 697.0,1115.2 698.7,1130.4 700.9,1085.9 703.5,1172.8 706.3,1093.5 709.1,1135.5 711.0,1118.2 712.8,1100.3 714.5,1101.6 716.1,1102.5 717.7,1103.3 719.3,1103.3 721.5,1115.5 723.3,1113.9 725.1,1110.8 727.0,1110.5 729.1,1109.6 731.3,1108.9 732.9,1111.8 734.6,1114.2 736.2,1115.4 737.8,1119.0 739.6,1116.3 741.3,1112.8 743.0,1111.0 744.8,1108.2 746.5,1104.9 748.2,1108.1 749.8,1109.2 751.4,1112.1 753.0,1114.0 754.9,1111.6 756.7,1109.9 758.5,1107.6 760.3,1106.0 762.1,1106.2 763.9,1103.7 766.1,1113.3 768.3,1123.9 770.4,1115.2 772.6,1105.7 774.2,1104.5 775.9,1102.7 777.5,1101.6 779.1,1099.7 780.8,1097.7 782.4,1096.2 784.0,1093.5 785.7,1091.7 787.3,1095.8 788.9,1097.8 790.5,1101.8 792.2,1104.8 793.9,1105.7 795.7,1107.7 797.4,1109.4 799.1,1111.0 800.9,1111.4 802.6,1112.5 804.3,1113.9 806.1,1115.2 807.8,1116.0 809.6,1116.6 811.5,1113.1 813.4,1109.4 815.3,1104.1 817.2,1100.1 819.1,1105.0 821.0,1110.2 822.9,1116.1 824.8,1120.3 826.5,1118.8 828.1,1116.5 829.8,1114.5 831.5,1113.1 833.2,1109.7 834.9,1113.8 836.6,1115.8 838.2,1119.2 839.9,1122.4 841.6,1125.0 843.4,1122.2 845.2,1120.5 847.0,1116.9 848.8,1115.4 850.6,1112.6 852.4,1110.4 854.1,1112.6 855.7,1114.2 857.4,1115.6 859.1,1116.8 860.8,1118.3 862.6,1117.2 864.4,1115.4 866.2,1114.0 868.0,1113.6 869.8,1110.8 871.6,1110.4 873.3,1111.5 874.9,1113.2 876.6,1114.9 878.3,1116.3 880.0,1118.7 881.9,1117.1 883.8,1116.5 885.7,1115.1 887.6,1115.0 889.6,1113.9 891.2,1115.7 892.9,1118.6 894.6,1121.6 896.3,1123.1 898.0,1125.3 899.6,1123.1 901.3,1120.7 903.0,1119.1 904.7,1116.2 906.4,1113.7 908.1,1113.2 909.8,1111.0 911.5,1110.7 913.2,1109.1 914.9,1107.5 916.6,1106.9 918.3,1104.8 920.3,1108.8 922.2,1111.9 924.1,1114.3 926.0,1117.7 927.9,1121.2 929.9,1119.9 931.8,1118.9 933.7,1118.2 935.6,1117.3 937.5,1116.1 939.3,1117.5 941.1,1117.4 942.9,1119.0 944.7,1120.1 946.5,1120.6 948.3,1121.7 950.1,1120.0 951.9,1120.0 953.7,1117.7 955.5,1116.6 957.3,1115.9 959.1,1113.5 961.0,1116.0 963.0,1116.0 964.9,1117.1 966.8,1118.9 968.7,1120.2 970.6,1120.0 972.6,1118.8 974.5,1117.4 976.4,1115.7 978.3,1114.8 980.2,1114.5 982.1,1115.6 984.1,1115.1 986.0,1115.1 987.9,1115.9 990.3,1113.4 992.7,1112.0 994.7,1113.5 996.7,1112.8 998.7,1113.4 1001.1,1112.7 1003.5,1111.9 1005.2,1113.5 1006.9,1114.5 1008.5,1115.9 1010.2,1117.1 1011.9,1118.4 1013.8,1118.0 1015.7,1116.6 1017.6,1115.7 1019.6,1115.4 1021.5,1113.3 1023.3,1113.8 1025.1,1115.4 1026.9,1115.1 1028.7,1116.1 1030.5,1114.3 1032.3,1114.2 1034.1,1114.0 1035.9,1112.5 1037.8,1113.7 1039.7,1113.9 1041.6,1114.0 1043.6,1115.5 1045.5,1115.0 1047.1,1115.7 1048.8,1116.4 1050.4,1116.5 1052.1,1117.9 1053.7,1118.0 1055.4,1118.5 1057.0,1119.0 1058.7,1119.5" stroke="#D95319" stroke-width="3.4" fill="none" stroke-linejoin="round" stroke-linecap="butt"/>
<path d="M124.1,1116.4 125.7,1116.8 127.4,1116.3 129.1,1116.6 130.7,1116.5 132.4,1115.4 134.1,1115.2 135.8,1116.4 137.4,1115.3 139.1,1115.1 140.8,1116.2 142.4,1115.2 144.1,1115.6 145.8,1114.9 147.5,1115.0 149.1,1114.1 150.8,1114.8 152.5,1115.0 154.1,1114.5 155.8,1114.9 157.5,1114.8 159.2,1113.9 160.8,1115.0 162.5,1114.8 164.2,1114.4 165.8,1114.0 167.5,1115.4 169.2,1114.8 170.9,1115.3 172.5,1115.6 174.2,1115.4 175.9,1115.7 177.5,1114.9 179.2,1115.6 180.9,1115.1 182.6,1116.0 184.3,1116.0 186.0,1114.9 187.7,1115.0 189.3,1115.3 191.0,1116.6 192.7,1115.8 194.4,1116.2 196.1,1115.8 197.8,1116.2 199.5,1116.1 201.2,1116.2 202.9,1116.6 204.6,1116.7 206.3,1117.3 208.0,1117.0 209.6,1117.4 211.3,1117.4 213.0,1117.7 214.7,1117.2 216.4,1116.5 218.1,1117.7 219.8,1117.9 221.5,1117.9 223.2,1117.3 224.9,1117.4 226.6,1116.6 228.2,1117.5 229.9,1117.0 231.6,1116.5 233.3,1116.1 235.0,1117.3 236.7,1117.4 238.4,1115.9 240.1,1117.0 241.8,1116.3 243.5,1115.9 245.2,1116.2 246.9,1117.0 248.5,1117.2 250.2,1115.9 251.9,1116.8 253.6,1115.9 255.3,1117.0 257.0,1116.5 258.7,1117.4 260.4,1117.6 262.1,1116.8 263.8,1117.5 265.5,1116.4 267.1,1115.9 268.8,1116.7 270.5,1115.7 272.2,1115.8 273.9,1116.1 275.6,1116.3 277.3,1115.5 279.0,1115.3 280.7,1116.5 282.4,1115.5 284.0,1116.5 285.6,1116.3 287.2,1115.4 288.9,1115.5 290.5,1115.5 292.1,1115.7 293.7,1115.5 295.4,1115.4 297.0,1115.5 298.6,1115.2 301.3,1115.0 302.0,962.6 304.5,1130.7 306.2,1145.2 308.0,1160.3 310.0,1150.6 312.0,1139.6 313.7,1134.7 315.4,1130.9 317.2,1125.2 318.9,1120.3 320.6,1120.5 322.4,1122.3 324.1,1123.6 325.9,1123.8 327.6,1125.9 329.3,1124.6 331.0,1122.3 332.6,1121.9 334.3,1120.3 336.0,1119.3 337.7,1118.0 339.4,1117.8 341.1,1117.0 342.7,1115.1 344.4,1114.4 346.1,1114.6 347.8,1114.9 349.5,1113.7 351.2,1114.0 352.9,1114.1 354.6,1113.5 356.3,1113.5 358.1,1113.4 359.8,1113.3 361.5,1113.6 363.2,1113.1 364.9,1113.1 366.6,1113.6 368.3,1112.3 370.0,1113.1 371.7,1113.6 373.3,1113.1 375.0,1113.1 376.7,1114.3 378.3,1113.6 380.0,1113.7 381.7,1114.3 383.3,1114.9 385.0,1114.1 386.7,1114.7 388.3,1114.9 390.0,1115.9 391.7,1115.4 393.3,1116.3 395.0,1115.4 396.7,1115.8 398.3,1116.5 400.0,1117.1 401.6,1116.4 403.2,1116.1 404.8,1115.9 406.4,1116.5 408.0,1116.0 409.6,1117.0 411.2,1117.0 412.8,1116.0 414.4,1116.1 416.0,1117.0 417.6,1116.7 419.2,1117.0 420.8,1116.3 422.4,1115.9 424.0,1116.2 425.6,1117.0 427.2,1116.1 428.8,1116.3 430.4,1116.4 432.0,1116.4 433.6,1116.4 435.2,1117.2 436.8,1115.9 438.4,1115.7 440.0,1117.2 441.6,1117.0 443.2,1117.1 444.8,1116.1 446.4,1116.8 448.0,1116.6 449.6,1115.4 451.2,1116.1 452.8,1116.1 454.4,1115.7 456.0,1115.4 457.6,1114.9 459.2,1114.9 460.8,1114.6 462.4,1114.2 464.0,1114.9 465.6,1114.5 467.2,1115.3 468.8,1114.1 470.4,1115.5 472.0,1115.2 473.6,1115.6 475.2,1115.6 476.8,1115.6 478.4,1115.1 480.0,1114.2 481.6,1115.4 483.2,1114.5 484.8,1114.7 486.4,1115.3 488.0,1115.1 489.6,1115.0 491.2,1115.8 492.8,1115.3 494.4,1114.9 496.0,1114.8 497.6,1115.8 499.2,1115.2 500.8,1115.7 502.4,1115.0 504.0,1114.8 505.6,1115.4 507.2,1115.8 508.8,1114.8 510.4,1115.8 512.0,1116.1 513.6,1115.9 515.2,1116.0 516.8,1114.7 518.4,1115.7 520.0,1116.1 521.6,1114.8 523.2,1115.1 524.8,1115.1 526.4,1115.5 528.0,1115.3 529.6,1115.4 531.2,1115.9 532.8,1114.7 534.4,1114.7 536.0,1114.8 537.6,1114.8 539.2,1114.7 540.8,1116.2 542.4,1116.0 544.0,1114.7 545.6,1115.4 547.2,1115.1 548.8,1115.1 550.4,1115.1 552.0,1115.6 553.6,1115.5 555.2,1115.1 556.8,1114.9 558.4,1115.1 560.0,1114.7 561.6,1115.4 563.2,1115.7 564.8,1115.1 566.4,1114.7 568.0,1114.8 569.6,1115.1 571.2,1115.5 572.8,1115.8 574.4,1115.1 576.0,1115.8 577.6,1115.5 579.2,1115.2 580.8,1115.1 582.4,1115.3 584.0,1115.6 585.6,1115.1 587.2,1115.6 588.8,1115.2 590.4,1114.8 592.0,1115.3 593.6,1115.5 595.2,1114.5 596.8,1115.1 598.4,1115.1 600.0,1115.8 601.6,1115.9 603.2,1115.0 604.9,1115.9 606.5,1115.7 608.1,1114.9 609.7,1115.2 611.4,1114.7 613.0,1115.8 614.6,1115.5 616.2,1115.9 617.8,1115.8 619.5,1115.6 621.1,1115.7 622.7,1115.4 624.3,1114.7 625.9,1115.5 627.6,1114.5 629.2,1114.8 630.8,1115.8 632.4,1114.6 634.1,1114.7 635.7,1114.7 637.3,1116.0 638.9,1114.9 640.5,1114.6 642.2,1116.0 643.8,1114.8 645.4,1116.0 647.0,1115.7 648.6,1116.0 650.3,1116.2 651.9,1115.6 653.5,1115.9 655.1,1114.7 656.8,1115.9 658.4,1115.5 660.0,1115.8 661.7,1114.7 663.3,1115.6 665.0,1115.7 666.7,1114.1 668.3,1114.4 670.0,1114.6 671.7,1114.9 673.3,1113.8 675.0,1113.5 676.7,1113.4 678.3,1113.9 680.0,1113.9 681.7,1113.2 683.3,1113.0 685.0,1112.8 687.2,1114.8 689.5,1117.0 690.4,922.8 690.7,1202.2 692.5,1118.0 694.5,1140.0 697.0,1138.0 699.5,1090.0 701.0,1140.0 703.5,1145.0 705.0,1095.0 708.0,1092.0 710.0,1107.9 712.0,1111.8 714.0,1117.0 715.6,1117.4 717.2,1116.1 718.8,1116.2 720.4,1114.9 722.0,1115.3 723.7,1115.5 725.3,1115.4 727.0,1115.2 728.6,1115.1 730.3,1115.4 731.9,1115.9 733.6,1114.7 735.2,1114.7 736.9,1115.8 738.5,1116.1 740.2,1115.5 741.8,1115.4 743.5,1115.9 745.1,1115.1 746.8,1115.3 748.4,1115.2 750.1,1115.9 751.7,1115.5 753.4,1115.4 755.0,1116.2 756.7,1116.6 758.3,1115.6 760.0,1116.3 761.8,1114.6 763.6,1113.5 765.0,1130.4 766.5,1115.1 768.2,1114.8 769.9,1114.6 771.5,1114.7 773.2,1114.6 774.9,1115.5 776.6,1115.6 778.2,1115.5 779.9,1116.0 781.6,1116.1 783.3,1117.1 785.0,1116.3 786.6,1117.9 788.3,1117.3 790.0,1117.7 791.7,1117.3 793.3,1117.8 795.0,1117.7 796.7,1117.1 798.3,1116.9 800.0,1117.2 801.7,1117.3 803.3,1116.5 805.0,1116.9 806.7,1117.1 808.3,1116.2 810.0,1115.7 811.7,1115.6 813.3,1116.3 815.0,1116.1 816.7,1116.5 818.3,1116.2 820.0,1115.1 821.8,1115.3 823.6,1115.7 825.4,1115.8 827.2,1116.9 828.9,1117.3 830.6,1117.4 832.2,1116.5 833.9,1117.6 835.6,1116.8 837.3,1117.1 838.9,1117.6 840.6,1116.7 842.3,1116.8 844.0,1118.1 845.7,1117.2 847.4,1117.3 849.1,1117.6 850.8,1117.7 852.6,1116.6 854.3,1117.1 856.0,1117.2 857.7,1117.3 859.4,1116.8 861.1,1117.4 862.8,1117.9 864.5,1117.0 866.3,1117.2 868.0,1116.5 869.7,1116.7 871.3,1117.4 873.0,1116.5 874.7,1117.7 876.4,1117.7 878.0,1116.4 879.7,1117.8 881.4,1116.9 883.1,1117.5 884.8,1117.5 886.4,1116.8 888.1,1117.4 889.8,1117.3 891.5,1117.6 893.2,1116.7 894.8,1117.5 896.5,1117.8 898.2,1117.4 899.9,1117.1 901.6,1116.5 903.4,1116.9 905.2,1116.5 907.0,1116.9 908.8,1116.7 910.5,1116.3 912.3,1115.5 914.1,1116.1 915.9,1115.9 917.7,1115.2 919.4,1116.4 921.1,1116.1 922.8,1115.3 924.5,1116.7 926.2,1115.5 927.9,1115.9 929.7,1116.5 931.4,1116.4 933.1,1116.4 934.8,1116.6 936.5,1116.4 938.2,1116.2 939.9,1116.1 941.6,1115.8 943.4,1116.8 945.1,1116.8 946.8,1116.4 948.5,1116.6 950.2,1116.0 951.9,1115.8 953.6,1115.9 955.4,1116.6 957.1,1115.2 958.8,1115.9 960.5,1115.4 962.2,1116.1 963.9,1115.4 965.6,1115.4 967.3,1115.5 969.1,1115.7 970.8,1116.1 972.5,1115.4 974.2,1116.2 975.9,1115.0 977.6,1115.3 979.3,1115.0 981.1,1115.0 982.8,1116.1 984.5,1116.0 986.2,1115.1 987.9,1115.2 989.6,1115.5 991.3,1116.1 993.0,1116.3 994.8,1116.2 996.5,1116.0 998.2,1115.3 999.9,1115.7 1001.6,1115.4 1003.3,1116.0 1005.0,1116.1 1006.8,1115.5 1008.5,1115.7 1010.2,1116.5 1011.9,1115.4 1013.6,1116.5 1015.3,1116.5 1017.0,1116.5 1018.7,1115.5 1020.5,1115.7 1022.2,1115.6 1023.9,1115.6 1025.6,1116.1 1027.3,1115.5 1029.0,1114.8 1030.7,1115.6 1032.5,1114.9 1034.2,1115.0 1035.9,1115.1 1037.5,1113.9 1039.1,1115.1 1040.8,1114.9 1042.4,1114.7 1044.0,1114.7 1045.6,1114.6 1047.3,1114.2 1048.9,1114.7 1050.5,1113.9 1052.2,1114.7 1053.8,1114.9 1055.4,1114.6 1057.0,1114.8 1058.7,1114.7" stroke="#EDB120" stroke-width="3.4" fill="none" stroke-linejoin="round" stroke-linecap="butt"/>
<path d="M279.8 872.9v10M279.8 1367.4v-10M435.9 872.9v10M435.9 1367.4v-10M592.1 872.9v10M592.1 1367.4v-10M748.2 872.9v10M748.2 1367.4v-10M904.3 872.9v10M904.3 1367.4v-10M123.6 1284.9h10M1060.5 1284.9h-10M123.6 1202.5h10M1060.5 1202.5h-10M123.6 1120.1h10M1060.5 1120.1h-10M123.6 1037.7h10M1060.5 1037.7h-10M123.6 955.3h10M1060.5 955.3h-10" stroke="#262626" stroke-width="1.4" fill="none"/>
<rect x="123.6" y="872.9" width="936.9" height="494.5" fill="none" stroke="#262626" stroke-width="1.6"/>
<text x="110.5" y="885.3" text-anchor="end" font-family="'Liberation Sans', Arial, Helvetica, sans-serif" font-size="34" fill="#262626">3</text>
<text x="110.5" y="967.8" text-anchor="end" font-family="'Liberation Sans', Arial, Helvetica, sans-serif" font-size="34" fill="#262626">2</text>
<text x="110.5" y="1050.2" text-anchor="end" font-family="'Liberation Sans', Arial, Helvetica, sans-serif" font-size="34" fill="#262626">1</text>
<text x="110.5" y="1132.6" text-anchor="end" font-family="'Liberation Sans', Arial, Helvetica, sans-serif" font-size="34" fill="#262626">0</text>
<text x="110.5" y="1215.0" text-anchor="end" font-family="'Liberation Sans', Arial, Helvetica, sans-serif" font-size="34" fill="#262626">-1</text>
<text x="110.5" y="1297.4" text-anchor="end" font-family="'Liberation Sans', Arial, Helvetica, sans-serif" font-size="34" fill="#262626">-2</text>
<text x="110.5" y="1379.9" text-anchor="end" font-family="'Liberation Sans', Arial, Helvetica, sans-serif" font-size="34" fill="#262626">-3</text>
<text transform="translate(63,1120) rotate(-90)" text-anchor="middle" font-family="'Liberation Sans', Arial, Helvetica, sans-serif" font-size="34" fill="#262626">Acceleration (g)</text>
<text transform="translate(375.4,939.8) scale(1.052,1)" font-family="'DejaVu Sans', Verdana, sans-serif" font-size="30.3" fill="#000">Alarm Response</text>
<path d="M421.4 949.8L338.2 982.3" stroke="#000" stroke-width="3.4" fill="none"/>
<path d="M316.8 990.7L341.4 971.8L338.2 982.3L347.7 987.9Z" fill="#000"/>
<path d="M573.1 946.5L656.9 978.4" stroke="#000" stroke-width="3.4" fill="none"/>
<path d="M678.3 986.6L647.4 984.0L656.9 978.4L653.5 967.9Z" fill="#000"/>
<rect x="889.4" y="898.6" width="143.1" height="138.4" fill="#fff" stroke="#262626" stroke-width="1.5"/>
<path d="M889.4 941.8H1032.5" stroke="#262626" stroke-width="1.5"/>
<text transform="translate(960.7,929.6) scale(1.045,1)" text-anchor="middle" font-family="'Liberation Sans', Arial, Helvetica, sans-serif" font-weight="700" font-size="23" fill="#000">Tag Axis</text>
<path d="M899.5 960.5H1001" stroke="#0072BD" stroke-width="3.6"/>
<text x="1008.5" y="968.6" font-family="'Liberation Sans', Arial, Helvetica, sans-serif" font-size="20" fill="#000">X</text>
<path d="M899.5 989.3H1001" stroke="#D95319" stroke-width="3.6"/>
<text x="1008.5" y="997.4" font-family="'Liberation Sans', Arial, Helvetica, sans-serif" font-size="20" fill="#000">Y</text>
<path d="M899.5 1017.9H1001" stroke="#EDB120" stroke-width="3.6"/>
<text x="1008.5" y="1026.0" font-family="'Liberation Sans', Arial, Helvetica, sans-serif" font-size="20" fill="#000">Z</text>
</g>
<g id="panelC">
<text x="0.3" y="1425.7" font-family="'Liberation Sans', Arial, Helvetica, sans-serif" font-weight="700" font-size="29" fill="#000">C</text>
<path d="M283.8 1445.9V1940.3M439.9 1445.9V1940.3M596.0 1445.9V1940.3M752.1 1445.9V1940.3M908.2 1445.9V1940.3M127.6 1857.9H1064.3M127.6 1775.5H1064.3M127.6 1693.1H1064.3M127.6 1610.7H1064.3M127.6 1528.3H1064.3" stroke="#e2e2e2" stroke-width="1.2" fill="none"/>
<path d="M127.6,1569.8 128.5,1565.6 129.4,1562.5 130.3,1560.4 131.2,1559.4 132.1,1559.9 133.0,1563.0 133.9,1568.4 134.8,1575.4 135.7,1583.4 136.6,1591.9 137.5,1600.3 138.4,1607.8 139.3,1614.0 140.2,1618.3 141.1,1620.0 142.0,1618.9 142.9,1615.8 143.8,1611.0 144.7,1605.2 145.6,1598.7 146.5,1592.1 147.4,1585.9 148.3,1580.6 149.2,1576.6 150.1,1574.5 151.0,1574.8 151.9,1577.6 152.8,1582.5 153.7,1588.9 154.6,1596.3 155.5,1604.2 156.4,1612.1 157.3,1619.6 158.2,1626.0 159.1,1630.9 160.0,1633.8 160.9,1634.1 161.8,1632.1 162.7,1628.3 163.6,1622.9 164.5,1616.5 165.4,1609.4 166.3,1602.1 167.2,1594.9 168.1,1588.3 169.0,1582.6 169.9,1578.3 170.8,1575.9 171.7,1575.6 172.6,1578.3 173.5,1583.3 174.4,1590.0 175.3,1597.7 176.2,1605.6 177.1,1613.1 178.0,1619.4 178.9,1623.7 179.8,1625.5 180.7,1624.4 181.6,1621.0 182.5,1616.1 183.4,1610.0 184.3,1603.5 185.2,1597.1 186.1,1591.3 187.0,1586.8 187.9,1584.1 188.8,1583.7 189.7,1585.2 190.6,1588.0 191.5,1591.8 192.4,1596.5 193.3,1601.5 194.2,1606.6 195.1,1611.5 196.0,1615.9 196.9,1619.5 197.8,1621.9 198.7,1622.9 199.6,1622.1 200.5,1619.5 201.4,1615.7 202.3,1610.7 203.2,1605.1 204.1,1599.2 205.0,1593.2 205.9,1587.5 206.8,1582.5 207.7,1578.4 208.6,1575.7 209.5,1574.6 210.4,1575.4 211.3,1577.8 212.2,1581.4 213.1,1585.9 214.0,1590.9 214.9,1596.0 215.8,1601.0 216.7,1605.3 217.6,1608.7 218.5,1610.8 219.4,1611.2 220.3,1609.2 221.2,1605.0 222.1,1599.2 223.0,1592.6 223.9,1585.7 224.8,1579.1 225.7,1573.5 226.6,1569.5 227.5,1567.6 228.4,1568.4 229.3,1571.2 230.2,1575.7 231.1,1581.4 232.0,1588.0 232.9,1594.9 233.8,1601.8 234.7,1608.2 235.6,1613.7 236.5,1617.9 237.4,1620.3 238.3,1620.6 239.2,1618.8 240.1,1615.3 241.0,1610.5 241.9,1605.1 242.8,1599.4 243.7,1594.0 244.6,1589.2 245.5,1585.7 246.4,1583.8 247.3,1584.0 248.2,1586.5 249.1,1590.7 250.0,1596.2 250.9,1602.5 251.8,1609.2 252.7,1615.7 253.6,1621.7 254.5,1626.5 255.4,1629.9 256.3,1631.2 257.2,1630.2 258.1,1627.1 259.0,1622.3 259.9,1616.4 260.8,1609.6 261.7,1602.5 262.6,1595.6 263.5,1589.1 264.4,1583.6 265.3,1579.5 266.2,1577.2 267.1,1577.2 268.0,1579.3 268.9,1583.1 269.8,1588.2 270.7,1594.2 271.6,1600.6 272.5,1607.2 273.4,1613.3 274.3,1618.7 275.2,1622.8 276.1,1625.4 277.0,1626.0 277.9,1625.0 278.8,1623.0 279.7,1620.1 280.6,1616.8 281.5,1613.1 282.4,1609.4 283.3,1605.9 284.2,1602.9 285.1,1600.5 286.0,1599.2 286.9,1599.0 287.8,1600.6 288.7,1603.7 289.6,1608.0 290.5,1613.0 291.4,1618.6 292.3,1624.3 293.2,1629.7 294.1,1634.7 295.0,1638.7 295.9,1641.5 296.8,1642.8 297.7,1641.8 298.6,1638.3 299.5,1632.5 300.4,1624.9 301.3,1615.7 302.2,1605.4 303.1,1594.3 304.0,1582.9 304.9,1571.4 305.8,1560.2 306.7,1549.8 307.6,1540.5 308.5,1532.6 309.4,1526.5 310.3,1522.7 311.2,1521.4 312.1,1525.0 313.0,1534.5 313.9,1548.7 314.8,1566.5 315.7,1587.0 316.6,1608.9 317.5,1631.1 318.4,1652.7 319.3,1672.5 320.2,1689.3 321.1,1702.1 322.0,1709.9 322.9,1711.6 323.8,1709.1 324.7,1704.5 325.6,1699.1 326.5,1694.0 327.4,1690.7 328.3,1690.1 329.2,1691.4 330.1,1693.6 331.0,1696.2 331.9,1698.7 332.8,1700.6 333.7,1701.3 334.6,1700.8 335.5,1699.6 336.4,1697.7 337.3,1695.2 338.2,1692.4 339.1,1689.2 340.0,1685.9 340.9,1682.6 341.8,1679.3 342.7,1676.2 343.6,1673.5 344.5,1671.2 345.4,1669.5 346.3,1668.4 347.2,1668.3 348.1,1670.3 349.0,1674.6 349.9,1680.8 350.8,1688.6 351.7,1697.6 352.6,1707.3 353.5,1717.4 354.4,1727.6 355.3,1737.4 356.2,1746.4 357.1,1754.4 358.0,1760.9 358.9,1765.4 359.8,1767.8 360.7,1767.5 361.6,1765.2 362.5,1761.9 363.4,1758.7 364.3,1756.9 365.2,1757.7 366.1,1761.4 367.0,1767.7 367.9,1775.8 368.8,1785.2 369.7,1795.2 370.6,1805.2 371.5,1814.6 372.4,1822.7 373.3,1829.0 374.2,1832.9 375.1,1833.6 376.0,1830.5 376.9,1823.8 377.8,1814.1 378.7,1802.1 379.6,1788.5 380.5,1773.9 381.4,1758.9 382.3,1744.2 383.2,1730.4 384.1,1718.2 385.0,1708.2 385.9,1701.0 386.8,1697.3 387.7,1697.7 388.6,1701.2 389.5,1706.9 390.4,1713.5 391.3,1720.1 392.2,1725.4 393.1,1728.4 394.0,1728.0 394.9,1723.9 395.8,1716.7 396.7,1706.9 397.6,1695.0 398.5,1681.7 399.4,1667.4 400.3,1652.7 401.2,1638.1 402.1,1624.2 403.0,1611.6 403.9,1600.8 404.8,1592.3 405.7,1586.7 406.6,1584.5 407.5,1586.3 408.4,1591.3 409.3,1598.4 410.2,1606.5 411.1,1614.4 412.0,1620.8 412.9,1624.6 413.8,1624.9 414.7,1623.0 415.6,1619.6 416.5,1615.2 417.4,1610.0 418.3,1604.6 419.2,1599.3 420.1,1594.6 421.0,1590.8 421.9,1588.3 422.8,1587.6 423.7,1589.0 424.6,1592.2 425.5,1596.9 426.4,1602.6 427.3,1609.1 428.2,1615.8 429.1,1622.6 430.0,1628.9 430.9,1634.5 431.8,1638.9 432.7,1641.7 433.6,1642.7 434.5,1641.4 435.4,1638.0 436.3,1633.1 437.2,1627.0 438.1,1620.4 439.0,1613.6 439.9,1607.2 440.8,1601.7 441.7,1597.6 442.6,1595.2 443.5,1595.3 444.4,1598.4 445.3,1603.8 446.2,1610.9 447.1,1618.9 448.0,1627.0 448.9,1634.4 449.8,1640.5 450.7,1644.4 451.6,1645.9 452.5,1646.9 453.4,1647.5 454.3,1648.1 455.2,1648.7 456.1,1649.5 457.0,1650.9 457.9,1654.2 458.8,1659.6 459.7,1666.8 460.6,1675.3 461.5,1684.6 462.4,1694.2 463.3,1703.8 464.2,1712.9 465.1,1721.0 466.0,1727.6 466.9,1732.4 467.8,1734.9 468.7,1734.6 469.6,1731.6 470.5,1726.4 471.4,1719.4 472.3,1711.1 473.2,1701.9 474.1,1692.2 475.0,1682.5 475.9,1673.3 476.8,1664.9 477.7,1657.9 478.6,1652.7 479.5,1649.7 480.4,1649.1 481.3,1649.5 482.2,1650.2 483.1,1651.2 484.0,1652.3 484.9,1653.5 485.8,1654.7 486.7,1655.7 487.6,1656.6 488.5,1657.5 489.4,1658.3 490.3,1659.2 491.2,1660.0 492.1,1660.9 493.0,1661.8 493.9,1662.8 494.8,1663.9 495.7,1665.1 496.6,1666.5 497.5,1668.3 498.4,1670.7 499.3,1673.6 500.2,1676.7 501.1,1680.0 502.0,1683.5 502.9,1687.0 503.8,1690.4 504.7,1693.7 505.6,1696.6 506.5,1699.2 507.4,1701.3 508.3,1702.9 509.2,1703.7 510.1,1703.7 511.0,1701.6 511.9,1697.3 512.8,1691.3 513.7,1683.7 514.6,1674.9 515.5,1665.3 516.4,1655.0 517.3,1644.6 518.2,1634.2 519.1,1624.2 520.0,1614.9 520.9,1606.5 521.8,1599.6 522.7,1594.2 523.6,1590.8 524.5,1589.7 525.4,1591.3 526.3,1595.5 527.2,1601.6 528.1,1609.1 529.0,1617.4 529.9,1625.8 530.8,1633.8 531.7,1640.8 532.6,1646.1 533.5,1649.3 534.4,1649.7 535.3,1646.9 536.2,1641.7 537.1,1634.6 538.0,1626.4 538.9,1617.8 539.8,1609.5 540.7,1602.1 541.6,1596.4 542.5,1592.9 543.4,1592.6 544.3,1595.7 545.2,1601.8 546.1,1609.9 547.0,1619.3 547.9,1629.3 548.8,1638.9 549.7,1647.4 550.6,1654.0 551.5,1658.0 552.4,1658.5 553.3,1655.7 554.2,1650.3 555.1,1643.0 556.0,1634.6 556.9,1625.5 557.8,1616.7 558.7,1608.6 559.6,1602.1 560.5,1597.7 561.4,1596.2 562.3,1598.0 563.2,1602.6 564.1,1609.4 565.0,1617.5 565.9,1626.3 566.8,1635.1 567.7,1643.2 568.6,1649.8 569.5,1654.2 570.4,1655.7 571.3,1654.7 572.2,1652.0 573.1,1648.0 574.0,1643.1 574.9,1637.6 575.8,1631.8 576.7,1626.2 577.6,1621.0 578.5,1616.7 579.4,1613.5 580.3,1611.9 581.2,1612.3 582.1,1615.6 583.0,1621.3 583.9,1628.5 584.8,1636.5 585.7,1644.7 586.6,1652.2 587.5,1658.3 588.4,1662.2 589.3,1663.4 590.2,1661.4 591.1,1657.1 592.0,1650.9 592.9,1643.6 593.8,1635.9 594.7,1628.3 595.6,1621.5 596.5,1616.2 597.4,1613.1 598.3,1612.7 599.2,1615.5 600.1,1620.6 601.0,1627.3 601.9,1634.8 602.8,1642.4 603.7,1649.3 604.6,1654.7 605.5,1657.8 606.4,1657.8 607.3,1655.1 608.2,1650.2 609.1,1643.8 610.0,1636.7 610.9,1629.6 611.8,1623.1 612.7,1618.0 613.6,1614.9 614.5,1614.5 615.4,1616.9 616.3,1621.4 617.2,1627.5 618.1,1634.7 619.0,1642.2 619.9,1649.5 620.8,1656.1 621.7,1661.2 622.6,1664.4 623.5,1665.1 624.4,1663.6 625.3,1660.6 626.2,1656.4 627.1,1651.5 628.0,1646.4 628.9,1641.6 629.8,1637.5 630.7,1634.6 631.6,1633.2 632.5,1633.9 633.4,1636.3 634.3,1640.0 635.2,1644.5 636.1,1649.3 637.0,1654.1 637.9,1658.3 638.8,1661.5 639.7,1663.2 640.6,1662.9 641.5,1659.9 642.4,1654.9 643.3,1648.4 644.2,1641.0 645.1,1633.4 646.0,1626.2 646.9,1619.9 647.8,1615.2 648.7,1612.7 649.6,1613.0 650.5,1616.0 651.4,1621.1 652.3,1627.6 653.2,1635.1 654.1,1642.8 655.0,1650.2 655.9,1656.6 656.8,1661.6 657.7,1664.3 658.6,1664.4 659.5,1662.2 660.4,1658.3 661.3,1653.3 662.2,1647.6 663.1,1642.0 664.0,1636.8 664.9,1632.7 665.8,1630.3 666.7,1630.0 667.6,1631.9 668.5,1635.7 669.4,1640.9 670.3,1647.1 671.2,1653.7 672.1,1660.3 673.0,1666.5 673.9,1671.8 674.8,1675.9 675.7,1678.1 676.6,1678.1 677.5,1676.1 678.4,1672.4 679.3,1667.7 680.2,1662.3 681.1,1656.9 682.0,1651.8 682.9,1647.5 683.8,1644.7 684.7,1643.7 685.6,1645.2 686.5,1648.8 687.4,1653.9 688.3,1659.6 689.2,1665.3 690.1,1670.2 691.0,1673.4 691.9,1674.3 692.8,1670.9 693.7,1662.8 694.6,1651.2 695.5,1636.7 696.4,1620.4 697.3,1603.2 698.2,1586.0 699.1,1569.7 700.0,1555.2 700.9,1543.5 701.8,1535.4 702.7,1531.8 703.6,1534.2 704.5,1543.5 705.4,1558.7 706.3,1578.9 707.2,1603.0 708.1,1630.0 709.0,1658.9 709.9,1688.8 710.8,1718.7 711.7,1747.5 712.6,1774.3 713.5,1798.1 714.4,1817.8 715.3,1832.6 716.2,1841.3 717.1,1843.2 718.0,1841.0 718.9,1836.4 719.8,1829.6 720.7,1820.9 721.6,1810.9 722.5,1799.9 723.4,1788.1 724.3,1776.0 725.2,1763.9 726.1,1752.3 727.0,1741.4 727.9,1731.6 728.8,1723.3 729.7,1716.9 730.6,1712.7 731.5,1711.1 732.4,1712.2 733.3,1715.6 734.2,1720.9 735.1,1727.4 736.0,1734.7 736.9,1742.4 737.8,1749.9 738.7,1756.8 739.6,1762.6 740.5,1766.7 741.4,1769.0 742.3,1770.9 743.2,1772.7 744.1,1774.3 745.0,1775.6 745.9,1776.6 746.8,1777.3 747.7,1777.5 748.6,1777.3 749.5,1776.7 750.4,1776.0 751.3,1775.0 752.2,1774.0 753.1,1773.1 754.0,1772.2 754.9,1771.4 755.8,1770.6 756.7,1769.8 757.6,1768.8 758.5,1767.7 759.4,1766.4 760.3,1764.8 761.2,1760.9 762.1,1754.6 763.0,1746.3 763.9,1736.5 764.8,1725.4 765.7,1713.7 766.6,1701.6 767.5,1689.8 768.4,1678.5 769.3,1668.2 770.2,1659.5 771.1,1652.6 772.0,1648.1 772.9,1646.3 773.8,1648.9 774.7,1656.2 775.6,1666.6 776.5,1678.4 777.4,1689.8 778.3,1699.1 779.2,1704.6 780.1,1705.1 781.0,1702.6 781.9,1698.0 782.8,1691.4 783.7,1683.3 784.6,1673.9 785.5,1663.6 786.4,1652.6 787.3,1641.3 788.2,1630.0 789.1,1618.9 790.0,1608.5 790.9,1598.9 791.8,1590.6 792.7,1583.8 793.6,1578.9 794.5,1575.3 795.4,1571.8 796.3,1568.4 797.2,1565.4 798.1,1562.6 799.0,1560.4 799.9,1558.7 800.8,1557.7 801.7,1557.6 802.6,1559.3 803.5,1562.9 804.4,1568.3 805.3,1575.0 806.2,1582.8 807.1,1591.5 808.0,1600.7 808.9,1610.2 809.8,1619.6 810.7,1628.8 811.6,1637.3 812.5,1644.9 813.4,1651.4 814.3,1656.4 815.2,1659.7 816.1,1661.0 817.0,1659.7 817.9,1656.0 818.8,1650.6 819.7,1644.1 820.6,1637.4 821.5,1631.0 822.4,1625.9 823.3,1622.6 824.2,1622.0 825.1,1625.3 826.0,1632.4 826.9,1642.5 827.8,1654.7 828.7,1668.3 829.6,1682.5 830.5,1696.5 831.4,1709.4 832.3,1720.6 833.2,1729.2 834.1,1734.4 835.0,1735.4 835.9,1732.3 836.8,1726.2 837.7,1718.4 838.6,1710.2 839.5,1702.9 840.4,1697.9 841.3,1696.4 842.2,1698.3 843.1,1702.7 844.0,1709.0 844.9,1716.6 845.8,1724.9 846.7,1733.4 847.6,1741.5 848.5,1748.6 849.4,1754.2 850.3,1757.6 851.2,1758.3 852.1,1756.2 853.0,1751.9 853.9,1745.9 854.8,1738.6 855.7,1730.5 856.6,1722.2 857.5,1714.2 858.4,1707.0 859.3,1701.1 860.2,1697.0 861.1,1695.1 862.0,1696.1 862.9,1699.5 863.8,1704.8 864.7,1711.4 865.6,1718.8 866.5,1726.3 867.4,1733.3 868.3,1739.4 869.2,1743.7 870.1,1745.9 871.0,1745.1 871.9,1741.2 872.8,1734.9 873.7,1726.8 874.6,1717.7 875.5,1708.3 876.4,1699.3 877.3,1691.3 878.2,1685.2 879.1,1681.6 880.0,1681.1 880.9,1683.4 881.8,1687.9 882.7,1694.1 883.6,1701.7 884.5,1710.2 885.4,1719.1 886.3,1728.0 887.2,1736.5 888.1,1744.1 889.0,1750.4 889.9,1754.9 890.8,1757.3 891.7,1757.1 892.6,1755.1 893.5,1751.5 894.4,1747.0 895.3,1741.8 896.2,1736.5 897.1,1731.4 898.0,1727.0 898.9,1723.7 899.8,1722.0 900.7,1722.1 901.6,1723.8 902.5,1726.7 903.4,1730.5 904.3,1735.0 905.2,1739.9 906.1,1744.8 907.0,1749.6 907.9,1753.8 908.8,1757.3 909.7,1759.7 910.6,1760.8 911.5,1760.4 912.4,1758.9 913.3,1756.4 914.2,1753.3 915.1,1749.7 916.0,1745.8 916.9,1741.8 917.8,1738.1 918.7,1734.7 919.6,1731.9 920.5,1729.9 921.4,1729.0 922.3,1729.4 923.2,1731.3 924.1,1734.0 925.0,1737.0 925.9,1739.5 926.8,1740.8 927.7,1740.1 928.6,1736.2 929.5,1729.8 930.4,1721.4 931.3,1711.3 932.2,1700.1 933.1,1688.4 934.0,1676.6 934.9,1665.3 935.8,1654.9 936.7,1646.0 937.6,1639.0 938.5,1634.5 939.4,1633.0 940.3,1634.8 941.2,1639.4 942.1,1646.2 943.0,1654.6 943.9,1664.1 944.8,1673.9 945.7,1683.4 946.6,1692.2 947.5,1699.4 948.4,1704.6 949.3,1707.2 950.2,1706.4 951.1,1702.4 952.0,1695.8 952.9,1687.6 953.8,1678.3 954.7,1668.8 955.6,1659.9 956.5,1652.3 957.4,1646.7 958.3,1644.0 959.2,1644.8 960.1,1649.0 961.0,1655.8 961.9,1664.5 962.8,1674.4 963.7,1684.6 964.6,1694.4 965.5,1703.0 966.4,1709.6 967.3,1713.6 968.2,1714.1 969.1,1711.8 970.0,1707.3 970.9,1701.0 971.8,1693.6 972.7,1685.4 973.6,1677.0 974.5,1668.8 975.4,1661.3 976.3,1655.0 977.2,1650.5 978.1,1648.1 979.0,1648.6 979.9,1652.4 980.8,1658.9 981.7,1667.4 982.6,1677.3 983.5,1687.7 984.4,1697.9 985.3,1707.3 986.2,1715.0 987.1,1720.5 988.0,1722.9 988.9,1721.9 989.8,1718.1 990.7,1712.1 991.6,1704.4 992.5,1695.6 993.4,1686.3 994.3,1677.1 995.2,1668.6 996.1,1661.3 997.0,1655.9 997.9,1652.9 998.8,1652.8 999.7,1655.5 1000.6,1660.3 1001.5,1666.7 1002.4,1674.2 1003.3,1682.1 1004.2,1689.9 1005.1,1697.1 1006.0,1703.1 1006.9,1707.3 1007.8,1709.2 1008.7,1708.4 1009.6,1705.4 1010.5,1700.7 1011.4,1694.6 1012.3,1687.6 1013.2,1680.0 1014.1,1672.3 1015.0,1664.8 1015.9,1658.0 1016.8,1652.3 1017.7,1648.1 1018.6,1645.8 1019.5,1646.1 1020.4,1650.3 1021.3,1657.7 1022.2,1667.4 1023.1,1678.3 1024.0,1689.3 1024.9,1699.4 1025.8,1707.5 1026.7,1712.6 1027.6,1713.6 1028.5,1710.6 1029.4,1704.3 1030.3,1695.6 1031.2,1685.5 1032.1,1674.7 1033.0,1664.1 1033.9,1654.6 1034.8,1647.1 1035.7,1642.4 1036.6,1641.4 1037.5,1643.9 1038.4,1649.0 1039.3,1656.2 1040.2,1664.8 1041.1,1674.3 1042.0,1683.9 1042.9,1693.0 1043.8,1701.1 1044.7,1707.5 1045.6,1711.6 1046.5,1712.8 1047.4,1710.5 1048.3,1705.5 1049.2,1698.4 1050.1,1689.8 1051.0,1680.6 1051.9,1671.4 1052.8,1662.9 1053.7,1655.9 1054.6,1651.1 1055.5,1649.2 1056.4,1649.7 1057.3,1651.3 1058.2,1654.1 1059.1,1658.0 1060.0,1663.1 1060.9,1669.3 1061.8,1676.8 1062.7,1685.4 1063.6,1695.3" stroke="#0072BD" stroke-width="1.5" fill="none" stroke-linejoin="round"/>
<path d="M131.6 1559.5l-12.9 -22.2h25.8zM150.5 1574.5l-12.9 -22.2h25.8zM171.4 1575.6l-12.9 -22.2h25.8zM188.5 1583.8l-12.9 -22.2h25.8zM209.6 1574.8l-12.9 -22.2h25.8zM227.7 1567.8l-12.9 -22.2h25.8zM246.8 1583.8l-12.9 -22.2h25.8zM266.7 1577.1l-12.9 -22.2h25.8zM286.6 1599.1l-12.9 -22.2h25.8zM311.2 1521.6l-12.9 -22.2h25.8zM328.0 1690.2l-12.9 -22.2h25.8zM347.0 1668.4l-12.9 -22.2h25.8zM364.6 1757.0l-12.9 -22.2h25.8zM387.2 1697.2l-12.9 -22.2h25.8zM406.7 1584.7l-12.9 -22.2h25.8zM422.7 1587.8l-12.9 -22.2h25.8zM443.1 1595.1l-12.9 -22.2h25.8zM480.1 1649.3l-12.9 -22.2h25.8zM496.3 1666.1l-12.9 -22.2h25.8zM524.5 1589.9l-12.9 -22.2h25.8zM543.1 1592.5l-12.9 -22.2h25.8zM561.4 1596.4l-12.9 -22.2h25.8zM580.7 1611.9l-12.9 -22.2h25.8zM598.0 1612.7l-12.9 -22.2h25.8zM614.2 1614.5l-12.9 -22.2h25.8zM631.8 1633.4l-12.9 -22.2h25.8zM649.1 1612.7l-12.9 -22.2h25.8zM666.4 1630.0l-12.9 -22.2h25.8zM684.7 1643.9l-12.9 -22.2h25.8zM702.9 1531.9l-12.9 -22.2h25.8zM731.6 1711.3l-12.9 -22.2h25.8zM773.0 1646.5l-12.9 -22.2h25.8zM801.5 1557.7l-12.9 -22.2h25.8zM824.0 1622.0l-12.9 -22.2h25.8zM841.2 1696.6l-12.9 -22.2h25.8zM861.3 1695.3l-12.9 -22.2h25.8zM879.7 1681.1l-12.9 -22.2h25.8zM900.2 1722.0l-12.9 -22.2h25.8zM921.7 1729.1l-12.9 -22.2h25.8zM939.4 1633.2l-12.9 -22.2h25.8zM958.6 1644.0l-12.9 -22.2h25.8zM978.5 1648.1l-12.9 -22.2h25.8zM998.4 1652.7l-12.9 -22.2h25.8zM1019.1 1645.7l-12.9 -22.2h25.8zM1036.4 1641.5l-12.9 -22.2h25.8zM1055.6 1649.4l-12.9 -22.2h25.8z" fill="#0072BD"/>
<path d="M285.4 1446.0V1938" stroke="#000" stroke-width="4.9" stroke-dasharray="14.6 5.24" fill="none"/>
<path d="M680.55 1449.6V1940.4" stroke="#000" stroke-width="4.9" stroke-dasharray="14.6 5.24" fill="none"/>
<path d="M283.8 1445.9v10M283.8 1940.3v-10M439.9 1445.9v10M439.9 1940.3v-10M596.0 1445.9v10M596.0 1940.3v-10M752.1 1445.9v10M752.1 1940.3v-10M908.2 1445.9v10M908.2 1940.3v-10M127.6 1857.9h10M1064.3 1857.9h-10M127.6 1775.5h10M1064.3 1775.5h-10M127.6 1693.1h10M1064.3 1693.1h-10M127.6 1610.7h10M1064.3 1610.7h-10M127.6 1528.3h10M1064.3 1528.3h-10" stroke="#262626" stroke-width="1.4" fill="none"/>
<rect x="127.6" y="1445.9" width="936.7" height="494.4" fill="none" stroke="#262626" stroke-width="1.5"/>
<text x="113.9" y="1458.4" text-anchor="end" font-family="'Liberation Sans', Arial, Helvetica, sans-serif" font-size="34" fill="#262626">40</text>
<text x="113.9" y="1540.8" text-anchor="end" font-family="'Liberation Sans', Arial, Helvetica, sans-serif" font-size="34" fill="#262626">30</text>
<text x="113.9" y="1623.2" text-anchor="end" font-family="'Liberation Sans', Arial, Helvetica, sans-serif" font-size="34" fill="#262626">20</text>
<text x="113.9" y="1705.6" text-anchor="end" font-family="'Liberation Sans', Arial, Helvetica, sans-serif" font-size="34" fill="#262626">10</text>
<text x="113.9" y="1788.0" text-anchor="end" font-family="'Liberation Sans', Arial, Helvetica, sans-serif" font-size="34" fill="#262626">0</text>
<text x="113.9" y="1870.4" text-anchor="end" font-family="'Liberation Sans', Arial, Helvetica, sans-serif" font-size="34" fill="#262626">-10</text>
<text x="113.9" y="1952.8" text-anchor="end" font-family="'Liberation Sans', Arial, Helvetica, sans-serif" font-size="34" fill="#262626">-20</text>
<text transform="translate(48.4,1696.9) rotate(-90)" text-anchor="middle" font-family="'Liberation Sans', Arial, Helvetica, sans-serif" font-size="34.4" fill="#262626">Magnetic Field Strength (uT)</text>
<text transform="translate(127.1,1982.2) scale(1.0,1)" text-anchor="middle" font-family="'DejaVu Sans', Verdana, sans-serif" font-size="31" fill="#000">0</text>
<text transform="translate(439.5,1979.2) scale(1.0,1)" text-anchor="middle" font-family="'DejaVu Sans', Verdana, sans-serif" font-size="31" fill="#000">10</text>
<text transform="translate(753.2,1975.1) scale(1.0,1)" text-anchor="middle" font-family="'DejaVu Sans', Verdana, sans-serif" font-size="31" fill="#000">20</text>
<text transform="translate(1064.2,1975.0) scale(1.0,1)" text-anchor="middle" font-family="'DejaVu Sans', Verdana, sans-serif" font-size="31" fill="#000">30</text>
<text transform="translate(595.6,2017.8) scale(1.073,1)" text-anchor="middle" font-family="'DejaVu Sans', Verdana, sans-serif" font-size="31" fill="#000">Time (s)</text>
<text transform="translate(367.2,1430.1) scale(1.052,1)" font-family="'DejaVu Sans', Verdana, sans-serif" font-size="30.3" fill="#000">Impact Hammer</text>
<path d="M414.8 1439.6L321.4 1480.0" stroke="#000" stroke-width="3.4" fill="none"/>
<path d="M300.3 1489.1L324.2 1469.4L321.4 1480.0L331.1 1485.2Z" fill="#000"/>
<path d="M551.6 1436.4L645.4 1475.0" stroke="#000" stroke-width="3.4" fill="none"/>
<path d="M666.6 1483.7L635.8 1480.3L645.4 1475.0L642.3 1464.4Z" fill="#000"/>
</g>
</svg>
</body>
</html>
